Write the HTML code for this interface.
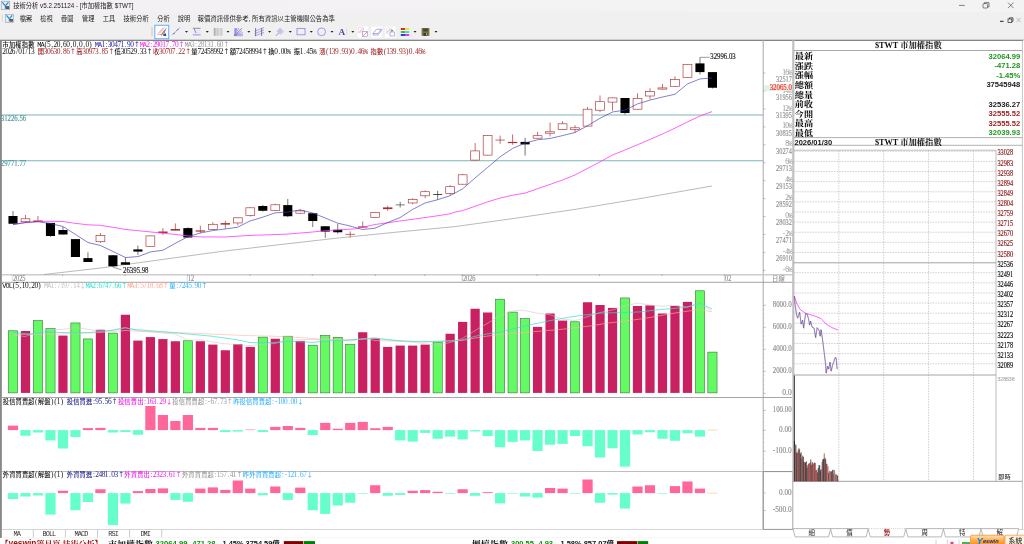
<!DOCTYPE html>
<html lang="zh-Hant"><head><meta charset="utf-8"><title>技術分析 - 市加權指數 $TWT</title>
<style>html,body{margin:0;padding:0;background:#fff;overflow:hidden}svg{display:block}text{white-space:pre}</style></head><body>
<svg width="1024" height="544" viewBox="0 0 1024 544">
<rect x="0.00" y="0.00" width="1024.00" height="544.00" fill="#ffffff" />
<rect x="0.00" y="0.00" width="1024.00" height="40.60" fill="#f0f0f0" />
<defs><linearGradient id="tg" x1="0" y1="0" x2="1" y2="0"><stop offset="0" stop-color="#f4f0f4"/><stop offset="0.7" stop-color="#f3f3f3"/><stop offset="1" stop-color="#f3f3f3"/></linearGradient></defs>
<rect x="0.00" y="0.00" width="1024.00" height="11.80" fill="url(#tg)" />
<g id="titlebar">
<g transform="translate(1.20,1.20) scale(0.950)">
<rect x="0" y="0" width="9" height="9" fill="#e8eef4" stroke="#8c98a4" stroke-width="0.6"/>
<path d="M1.2 1.2 L4.4 5 L4.4 8" stroke="#1e90d8" stroke-width="1.3" fill="none"/>
<path d="M7.6 1.2 L4.4 5" stroke="#1e90d8" stroke-width="1.3" fill="none"/>
<rect x="5" y="5.2" width="3.4" height="3" fill="#555"/>
<rect x="5.6" y="6.2" width="1.6" height="1.2" fill="#e03030"/>
</g>
<text x="13.20" y="8.40" fill="#222" font-size="6.40" font-family='"Liberation Sans","Noto Sans CJK TC",sans-serif' text-anchor="start" font-weight="normal" textLength="120.30" lengthAdjust="spacingAndGlyphs" >技術分析 v5.2.251124 - [市加權指數 $TWT]</text>
<line x1="959.00" y1="5.40" x2="964.80" y2="5.40" stroke="#333" stroke-width="0.60" />
<rect x="983" y="3.6" width="4.6" height="4.4" rx="0.8" fill="none" stroke="#333" stroke-width="0.6"/>
<path d="M984.4 3.6 V2.6 H989 V7 H987.6" fill="none" stroke="#333" stroke-width="0.6"/>
<path d="M1008 2.6 L1013.5 8.1 M1013.5 2.6 L1008 8.1" stroke="#333" stroke-width="0.6"/>
</g>
<g id="menubar">
<line x1="2.30" y1="14.50" x2="2.30" y2="21.50" stroke="#c8c8c8" stroke-width="0.60" />
<g transform="translate(5.40,14.30) scale(0.900)">
<rect x="0" y="0" width="9" height="9" fill="#e8eef4" stroke="#8c98a4" stroke-width="0.6"/>
<path d="M1.2 1.2 L4.4 5 L4.4 8" stroke="#1e90d8" stroke-width="1.3" fill="none"/>
<path d="M7.6 1.2 L4.4 5" stroke="#1e90d8" stroke-width="1.3" fill="none"/>
<rect x="5" y="5.2" width="3.4" height="3" fill="#555"/>
<rect x="5.6" y="6.2" width="1.6" height="1.2" fill="#e03030"/>
</g>
<text x="19.80" y="20.90" fill="#222" font-size="6.40" font-family='"Liberation Sans","Noto Sans CJK TC",sans-serif' text-anchor="start" font-weight="normal" textLength="12.40" lengthAdjust="spacingAndGlyphs" >檔案</text>
<text x="40.30" y="20.90" fill="#222" font-size="6.40" font-family='"Liberation Sans","Noto Sans CJK TC",sans-serif' text-anchor="start" font-weight="normal" textLength="12.40" lengthAdjust="spacingAndGlyphs" >檢視</text>
<text x="61.00" y="20.90" fill="#222" font-size="6.40" font-family='"Liberation Sans","Noto Sans CJK TC",sans-serif' text-anchor="start" font-weight="normal" textLength="12.40" lengthAdjust="spacingAndGlyphs" >疊圖</text>
<text x="82.00" y="20.90" fill="#222" font-size="6.40" font-family='"Liberation Sans","Noto Sans CJK TC",sans-serif' text-anchor="start" font-weight="normal" textLength="12.40" lengthAdjust="spacingAndGlyphs" >管理</text>
<text x="102.80" y="20.90" fill="#222" font-size="6.40" font-family='"Liberation Sans","Noto Sans CJK TC",sans-serif' text-anchor="start" font-weight="normal" textLength="12.40" lengthAdjust="spacingAndGlyphs" >工具</text>
<text x="123.50" y="20.90" fill="#222" font-size="6.40" font-family='"Liberation Sans","Noto Sans CJK TC",sans-serif' text-anchor="start" font-weight="normal" textLength="25.40" lengthAdjust="spacingAndGlyphs" >技術分析</text>
<text x="157.30" y="20.90" fill="#222" font-size="6.40" font-family='"Liberation Sans","Noto Sans CJK TC",sans-serif' text-anchor="start" font-weight="normal" textLength="12.40" lengthAdjust="spacingAndGlyphs" >分析</text>
<text x="177.80" y="20.90" fill="#222" font-size="6.40" font-family='"Liberation Sans","Noto Sans CJK TC",sans-serif' text-anchor="start" font-weight="normal" textLength="12.40" lengthAdjust="spacingAndGlyphs" >說明</text>
<text x="197.50" y="20.90" fill="#222" font-size="6.40" font-family='"Liberation Sans","Noto Sans CJK TC",sans-serif' text-anchor="start" font-weight="normal" textLength="137.50" lengthAdjust="spacingAndGlyphs" >報價資訊僅供參考, 所有資訊以主管機關公告為準</text>
<line x1="1000.00" y1="21.30" x2="1003.60" y2="21.30" stroke="#222" stroke-width="1.00" />
<rect x="1008" y="19" width="3.8" height="3.6" fill="#f0f0f0" stroke="#222" stroke-width="0.7"/>
<path d="M1009.4 19 V17.8 H1013 V21.4 H1011.8" fill="none" stroke="#222" stroke-width="0.7"/>
<path d="M1016.4 17.9 L1020.8 22.3 M1020.8 17.9 L1016.4 22.3" stroke="#999" stroke-width="0.6"/>
</g>
<g id="toolbar">
<line x1="152.00" y1="27.00" x2="152.00" y2="36.50" stroke="#b8b8b8" stroke-width="0.70" />
<rect x="154.85" y="25.25" width="13.90" height="13.50" fill="#fbfdff" stroke="#58a6e8" stroke-width="0.90" />
<path d="M157.4 33.6 L162.8 27.6 H165.2 L159.8 33.6 Z" fill="#f6c0c0"/>
<path d="M157.2 34.6 H161.4" stroke="#f0a0a8" stroke-width="0.8"/>
<path d="M161.2 35.4 L164.8 30.2" stroke="#c87838" stroke-width="1.2"/>
<path d="M163.4 34.8 L166 28.4" stroke="#7080d8" stroke-width="0.9"/>
<path d="M163.6 34.2 L166 33.2 L166.2 36 L163.2 36 Z" fill="#3840a8"/>
<path d="M172.2 35.2 L180 27.3" stroke="#9c9cff" stroke-width="0.9"/>
<path d="M173.4 34 L174.6 32.8 M176.9 30.5 L178.1 29.3" stroke="#444" stroke-width="0.9"/>
<path d="M185.00 30.90 h3 l-1.5 1.8 z" fill="#222"/>
<path d="M192.8 28.3 H200.6" stroke="#666" stroke-width="0.7"/><path d="M192.8 34.8 H200.6" stroke="#a4a4ff" stroke-width="1.3"/><path d="M197 30.6 H200.5 M197 32.6 H200.5" stroke="#dcdcdc" stroke-width="0.7"/><path d="M194.3 29 L196 33.2" stroke="#7c7cf4" stroke-width="1.0"/>
<path d="M205.80 30.90 h3 l-1.5 1.8 z" fill="#222"/>
<line x1="214.30" y1="28.00" x2="214.30" y2="35.80" stroke="#666" stroke-width="0.60" />
<line x1="215.80" y1="28.00" x2="215.80" y2="35.80" stroke="#888" stroke-width="0.60" />
<line x1="217.30" y1="28.00" x2="217.30" y2="35.80" stroke="#999" stroke-width="0.60" />
<line x1="218.80" y1="28.00" x2="218.80" y2="35.80" stroke="#aaa" stroke-width="0.60" />
<line x1="220.30" y1="28.00" x2="220.30" y2="35.80" stroke="#b4b4b4" stroke-width="0.60" />
<line x1="221.80" y1="28.00" x2="221.80" y2="35.80" stroke="#999" stroke-width="0.60" />
<path d="M226.50 30.90 h3 l-1.5 1.8 z" fill="#222"/>
<path d="M234.3 35.6 L234.3 28.2 L237 28.2 Z" fill="#7070ff" opacity="0.75"/>
<line x1="234.40" y1="35.50" x2="243.00" y2="34.29" stroke="#7474ff" stroke-width="0.60" />
<line x1="234.40" y1="35.50" x2="242.86" y2="32.42" stroke="#7474ff" stroke-width="0.60" />
<line x1="234.40" y1="35.50" x2="242.03" y2="30.73" stroke="#7474ff" stroke-width="0.60" />
<line x1="234.40" y1="35.50" x2="239.09" y2="28.00" stroke="#7474ff" stroke-width="0.60" />
<line x1="234.40" y1="35.50" x2="237.13" y2="28.00" stroke="#7474ff" stroke-width="0.60" />
<path d="M234.4 35.5 L242 28.2" stroke="#666" stroke-width="0.7"/>
<path d="M234.2 35.7 H243" stroke="#888" stroke-width="0.6"/>
<path d="M247.30 30.90 h3 l-1.5 1.8 z" fill="#222"/>
<path d="M254.6 31.2 L264 27.6 M254.6 33.6 L264 30 M254.6 36 L264 32.4" stroke="#7474ff" stroke-width="0.6"/><path d="M255.6 28 V36 M261.6 28 V36" stroke="#555" stroke-width="0.7"/>
<path d="M268.10 30.90 h3 l-1.5 1.8 z" fill="#222"/>
<path d="M276 35.8 L278.6 33.1" stroke="#7474e8" stroke-width="0.8"/>
<path d="M280 28 L283.6 31.5 L280.6 34.6 L277 31.2 Z" fill="#e4e4f4" stroke="#a4a4dc" stroke-width="0.4"/>
<path d="M278.5 29.6 L282 33 M277.8 30.4 L281.3 33.8 M279.3 28.8 L282.8 32.2 M281.6 29.6 L278.4 32.6 M282.4 30.4 L279.2 33.4 M280.8 28.8 L277.6 31.8" stroke="#9090d0" stroke-width="0.35"/>
<path d="M288.80 30.90 h3 l-1.5 1.8 z" fill="#222"/>
<rect x="297" y="28.6" width="8" height="6.2" fill="none" stroke="#7c7cf8" stroke-width="0.75"/>
<path d="M309.80 30.90 h3 l-1.5 1.8 z" fill="#222"/>
<circle cx="321.6" cy="31.8" r="3.9" fill="none" stroke="#7c7cf8" stroke-width="0.75"/>
<path d="M330.50 30.90 h3 l-1.5 1.8 z" fill="#222"/>
<text x="338.60" y="35.20" fill="#4a4ab0" font-size="9.20" font-family='"Liberation Serif","Noto Serif CJK SC",serif' text-anchor="start" font-weight="bold" >A</text>
<path d="M346.6 28.5 v6.5" stroke="#9ab" stroke-width="0.5" stroke-dasharray="0.8 0.8"/>
<path d="M351.30 30.90 h3 l-1.5 1.8 z" fill="#222"/>
<rect x="357.60" y="26.60" width="10.60" height="11.00" fill="#ffffff" />
<rect x="371.20" y="26.60" width="10.60" height="11.00" fill="#ffffff" />
<rect x="385.00" y="26.60" width="10.60" height="11.00" fill="#ffffff" />
<rect x="358.8" y="27.8" width="5" height="5" fill="#fff" stroke="#c8c8d8" stroke-width="0.4"/><path d="M359.3 32.3 L363.3 28.3" stroke="#f06060" stroke-width="0.7"/>
<rect x="362.6" y="31.4" width="5" height="5" fill="#fff" stroke="#7070c8" stroke-width="0.5"/><path d="M363.1 35.9 L367.1 31.9" stroke="#f06060" stroke-width="0.7"/>
<path d="M373 33.5 L376.5 29.2 L381.3 29.2 L378 33.5 Z M373 33.5 V35 L378 35 L381.3 30.8 V29.2" fill="#fff" stroke="#7878d0" stroke-width="0.6"/>
<rect x="386.4" y="28" width="5" height="5.4" fill="#fff" stroke="#c8c8d8" stroke-width="0.4"/><path d="M386.9 32.6 L390.6 28.8" stroke="#f06060" stroke-width="0.7"/>
<rect x="390" y="32" width="4.6" height="4" fill="#fff" stroke="#6a6ac0" stroke-width="0.5"/><path d="M390.4 31.2 l1.6 -1.8 l1.6 1.8 z" fill="#3a8a5a"/>
<rect x="400.80" y="28.00" width="4.20" height="2.00" fill="#d83030" />
<rect x="405.00" y="28.00" width="4.20" height="2.00" fill="#f0e040" />
<rect x="400.80" y="31.00" width="4.20" height="2.00" fill="#40c040" />
<rect x="405.00" y="31.00" width="4.20" height="2.00" fill="#40e0e0" />
<rect x="400.80" y="34.00" width="4.20" height="2.00" fill="#3040d0" />
<rect x="405.00" y="34.00" width="4.20" height="2.00" fill="#e040e0" />
<path d="M413.50 30.90 h3 l-1.5 1.8 z" fill="#222"/>
<rect x="421.60" y="28.00" width="7.80" height="7.80" fill="#7d7636" />
<rect x="423.20" y="28.60" width="4.60" height="2.80" fill="#444" />
<rect x="423.40" y="33.00" width="4.20" height="2.80" fill="#3a3a3a" />
<rect x="426.20" y="33.40" width="1.00" height="1.80" fill="#ddd" />
<path d="M434.50 30.90 h3 l-1.5 1.8 z" fill="#222"/>
</g>
<g id="frame">
<rect x="0.00" y="39.70" width="1024.00" height="1.30" fill="#858585" />
<rect x="0.00" y="40.00" width="1.60" height="498.00" fill="#878787" />
<line x1="763.20" y1="40.00" x2="763.20" y2="529.40" stroke="#a8a8a8" stroke-width="1.00" />
<line x1="1.70" y1="274.70" x2="792.50" y2="274.70" stroke="#cdcdcd" stroke-width="1.40" />
<line x1="1.70" y1="282.30" x2="792.50" y2="282.30" stroke="#8e8e8e" stroke-width="0.80" />
<line x1="1.70" y1="397.50" x2="792.50" y2="397.50" stroke="#9c9c9c" stroke-width="0.90" />
<line x1="1.70" y1="471.50" x2="792.50" y2="471.50" stroke="#b8b8b8" stroke-width="0.90" />
<line x1="1.70" y1="529.50" x2="1024.00" y2="529.50" stroke="#cfcfcf" stroke-width="0.90" />
<line x1="0.00" y1="537.70" x2="792.00" y2="537.70" stroke="#f0f0f0" stroke-width="0.80" />
<path d="M763.20 471.6 H792.8 V529.4 H763.20 Z" fill="none" stroke="#808080" stroke-width="0.7"/>
<rect x="792.20" y="40.40" width="2.20" height="334.80" fill="#c0c0c0" />
<rect x="792.20" y="375.00" width="1.50" height="96.30" fill="#cccccc" />
<rect x="793.70" y="375.20" width="1.30" height="106.30" fill="#505050" />
</g>
<g id="kchart">
<line x1="1.70" y1="115.00" x2="763.20" y2="115.00" stroke="#7fb4ba" stroke-width="1.10" />
<line x1="1.70" y1="160.70" x2="763.20" y2="160.70" stroke="#7fb4ba" stroke-width="1.10" />
<text x="0.80" y="120.60" fill="#4f9aa2" font-size="7.36" font-family='"Liberation Serif","Noto Sans CJK TC",serif' textLength="25.40" lengthAdjust="spacingAndGlyphs" stroke="#4f9aa2" stroke-width="0.16" >31226.56</text>
<text x="0.80" y="165.90" fill="#4f9aa2" font-size="7.36" font-family='"Liberation Serif","Noto Sans CJK TC",serif' textLength="25.40" lengthAdjust="spacingAndGlyphs" stroke="#4f9aa2" stroke-width="0.16" >29771.77</text>
<text x="2.56 8.96 15.36 21.76 28.16 35.18 37.23 40.43 44.47 47.06 51.18 53.46 56.66 60.78 63.06 66.26 70.38 72.66 76.78 79.06 83.18 85.46 89.27 92.78" y="46.90" fill="#111" font-size="7.36" font-family='"Liberation Serif","Noto Sans CJK TC",serif' ><tspan font-family='"Noto Sans CJK TC","Noto Sans CJK SC",sans-serif' font-size='6.27' font-weight='500'>市加權指數</tspan> <tspan font-family='"Liberation Mono",monospace' font-size='6.91'>MA</tspan>(5,20,60,0,0,0) </text>
<text x="94.83 98.03 101.46 105.48 107.86 111.06 114.26 117.46 120.66 124.78 127.06 130.26 133.76" y="46.90" fill="#1a1aa0" font-size="7.36" font-family='"Liberation Serif","Noto Sans CJK TC",serif' ><tspan font-family='"Liberation Mono",monospace' font-size='6.91'>MA</tspan>1:30471.90<tspan font-family='"Noto Sans CJK TC","Noto Sans CJK SC",sans-serif' font-size='6.27' font-weight='500'>↑</tspan></text>
<text x="139.63 142.83 146.26 150.28 152.66 155.86 159.06 162.26 165.46 169.58 171.86 175.06 178.56" y="46.90" fill="#f020f0" font-size="7.36" font-family='"Liberation Serif","Noto Sans CJK TC",serif' ><tspan font-family='"Liberation Mono",monospace' font-size='6.91'>MA</tspan>2:29017.70<tspan font-family='"Noto Sans CJK TC","Noto Sans CJK SC",sans-serif' font-size='6.27' font-weight='500'>↑</tspan></text>
<text x="184.43 187.63 191.06 195.08 197.46 200.66 203.86 207.06 210.26 214.38 216.66 219.86 223.36" y="46.90" fill="#9a9a9a" font-size="7.36" font-family='"Liberation Serif","Noto Sans CJK TC",serif' ><tspan font-family='"Liberation Mono",monospace' font-size='6.91'>MA</tspan>3:28131.60<tspan font-family='"Noto Sans CJK TC","Noto Sans CJK SC",sans-serif' font-size='6.27' font-weight='500'>↑</tspan></text>
<text x="2.26 5.46 8.66 11.86 15.88 18.26 21.46 25.48 27.86 31.06 35.18" y="54.40" fill="#111" font-size="7.36" font-family='"Liberation Serif","Noto Sans CJK TC",serif' >2026/01/13 </text>
<text x="37.76 43.86 47.06 50.26 53.46 56.66 60.78 63.06 66.26 69.76" y="54.40" fill="#a02828" font-size="7.36" font-family='"Liberation Serif","Noto Sans CJK TC",serif' ><tspan font-family='"Noto Sans CJK TC","Noto Sans CJK SC",sans-serif' font-size='6.27' font-weight='500'>開</tspan>30630.86<tspan font-family='"Noto Sans CJK TC","Noto Sans CJK SC",sans-serif' font-size='6.27' font-weight='500'>↑</tspan></text>
<text x="76.16 82.26 85.46 88.66 91.86 95.06 99.18 101.46 104.66 108.16" y="54.40" fill="#a02828" font-size="7.36" font-family='"Liberation Serif","Noto Sans CJK TC",serif' ><tspan font-family='"Noto Sans CJK TC","Noto Sans CJK SC",sans-serif' font-size='6.27' font-weight='500'>高</tspan>30973.85<tspan font-family='"Noto Sans CJK TC","Noto Sans CJK SC",sans-serif' font-size='6.27' font-weight='500'>↑</tspan></text>
<text x="114.56 120.66 123.86 127.06 130.26 133.46 137.58 139.86 143.06 146.56" y="54.40" fill="#111" font-size="7.36" font-family='"Liberation Serif","Noto Sans CJK TC",serif' ><tspan font-family='"Noto Sans CJK TC","Noto Sans CJK SC",sans-serif' font-size='6.27' font-weight='500'>低</tspan>30529.33<tspan font-family='"Noto Sans CJK TC","Noto Sans CJK SC",sans-serif' font-size='6.27' font-weight='500'>↑</tspan></text>
<text x="152.96 159.06 162.26 165.46 168.66 171.86 175.98 178.26 181.46 184.96" y="54.40" fill="#a02828" font-size="7.36" font-family='"Liberation Serif","Noto Sans CJK TC",serif' ><tspan font-family='"Noto Sans CJK TC","Noto Sans CJK SC",sans-serif' font-size='6.27' font-weight='500'>收</tspan>30707.22<tspan font-family='"Noto Sans CJK TC","Noto Sans CJK SC",sans-serif' font-size='6.27' font-weight='500'>↑</tspan></text>
<text x="191.36 197.46 200.66 203.86 207.06 210.26 213.46 216.66 219.86 223.36" y="54.40" fill="#111" font-size="7.36" font-family='"Liberation Serif","Noto Sans CJK TC",serif' ><tspan font-family='"Noto Sans CJK TC","Noto Sans CJK SC",sans-serif' font-size='6.27' font-weight='500'>量</tspan>72458992<tspan font-family='"Noto Sans CJK TC","Noto Sans CJK SC",sans-serif' font-size='6.27' font-weight='500'>↑</tspan></text>
<text x="229.76 235.86 239.06 242.26 245.46 248.66 251.86 255.06 258.26 261.76" y="54.40" fill="#111" font-size="7.36" font-family='"Liberation Serif","Noto Sans CJK TC",serif' ><tspan font-family='"Noto Sans CJK TC","Noto Sans CJK SC",sans-serif' font-size='6.27' font-weight='500'>額</tspan>72458994<tspan font-family='"Noto Sans CJK TC","Noto Sans CJK SC",sans-serif' font-size='6.27' font-weight='500'>↑</tspan></text>
<text x="268.16 274.26 278.38 280.66 283.86 286.83 291.18" y="54.40" fill="#111" font-size="7.36" font-family='"Liberation Serif","Noto Sans CJK TC",serif' ><tspan font-family='"Noto Sans CJK TC","Noto Sans CJK SC",sans-serif' font-size='6.27' font-weight='500'>換</tspan>0.00<tspan font-family='"Liberation Mono",monospace' font-size='6.91'>%</tspan> </text>
<text x="293.76 299.86 303.98 306.26 309.46 312.43 316.78" y="54.40" fill="#111" font-size="7.36" font-family='"Liberation Serif","Noto Sans CJK TC",serif' ><tspan font-family='"Noto Sans CJK TC","Noto Sans CJK SC",sans-serif' font-size='6.27' font-weight='500'>振</tspan>1.45<tspan font-family='"Liberation Mono",monospace' font-size='6.91'>%</tspan> </text>
<text x="319.36 326.07 328.66 331.86 335.06 339.18 341.46 344.66 348.47 351.06 355.18 357.46 360.66 363.63 367.98" y="54.40" fill="#a02828" font-size="7.36" font-family='"Liberation Serif","Noto Sans CJK TC",serif' ><tspan font-family='"Noto Sans CJK TC","Noto Sans CJK SC",sans-serif' font-size='6.27' font-weight='500'>漲</tspan>(139.93)0.46<tspan font-family='"Liberation Mono",monospace' font-size='6.91'>%</tspan> </text>
<text x="370.56 376.96 383.67 386.26 389.46 392.66 396.78 399.06 402.26 406.07 408.66 412.78 415.06 418.26 421.23" y="54.40" fill="#a02828" font-size="7.36" font-family='"Liberation Serif","Noto Sans CJK TC",serif' ><tspan font-family='"Noto Sans CJK TC","Noto Sans CJK SC",sans-serif' font-size='6.27' font-weight='500'>指數</tspan>(139.93)0.46<tspan font-family='"Liberation Mono",monospace' font-size='6.91'>%</tspan></text>
<polyline points="44.00,274.50 100.00,268.10 160.00,259.80 220.00,251.60 280.00,244.60 340.00,237.80 400.00,231.80 455.00,226.60 515.00,218.30 575.00,209.40 640.00,198.60 712.00,186.00" fill="none" stroke="#8c8c8c" stroke-width="0.60" stroke-linejoin="round" />
<line x1="13.00" y1="211.00" x2="13.00" y2="223.75" stroke="#222" stroke-width="0.62" />
<rect x="8.45" y="216.00" width="9.10" height="7.75" fill="#000" />
<line x1="25.49" y1="215.00" x2="25.49" y2="222.50" stroke="#a83232" stroke-width="0.70" />
<rect x="21.07" y="218.80" width="8.84" height="2.90" fill="#fff" stroke="#a83232" stroke-width="0.65" />
<line x1="37.98" y1="216.00" x2="37.98" y2="222.00" stroke="#a83232" stroke-width="0.70" />
<rect x="33.26" y="220.50" width="9.44" height="1.50" fill="#a83232" />
<line x1="50.47" y1="222.90" x2="50.47" y2="236.75" stroke="#222" stroke-width="0.62" />
<rect x="45.92" y="222.90" width="9.10" height="13.10" fill="#000" />
<line x1="62.96" y1="227.00" x2="62.96" y2="234.50" stroke="#222" stroke-width="0.62" />
<rect x="58.41" y="230.00" width="9.10" height="4.50" fill="#000" />
<line x1="75.45" y1="239.10" x2="75.45" y2="257.00" stroke="#222" stroke-width="0.62" />
<rect x="70.90" y="239.10" width="9.10" height="17.90" fill="#000" />
<line x1="87.94" y1="252.25" x2="87.94" y2="262.00" stroke="#222" stroke-width="0.62" />
<rect x="83.39" y="258.10" width="9.10" height="3.90" fill="#000" />
<line x1="100.43" y1="233.00" x2="100.43" y2="243.00" stroke="#a83232" stroke-width="0.70" />
<rect x="96.01" y="235.55" width="8.84" height="6.15" fill="#fff" stroke="#a83232" stroke-width="0.65" />
<line x1="112.92" y1="255.00" x2="112.92" y2="267.00" stroke="#222" stroke-width="0.62" />
<rect x="108.37" y="255.25" width="9.10" height="11.00" fill="#000" />
<line x1="125.41" y1="257.50" x2="125.41" y2="264.75" stroke="#222" stroke-width="0.62" />
<rect x="120.86" y="262.25" width="9.10" height="2.50" fill="#000" />
<line x1="137.90" y1="245.60" x2="137.90" y2="255.00" stroke="#222" stroke-width="0.62" />
<rect x="133.35" y="249.40" width="9.10" height="2.20" fill="#000" />
<line x1="150.39" y1="235.60" x2="150.39" y2="246.60" stroke="#a83232" stroke-width="0.70" />
<rect x="145.97" y="235.90" width="8.84" height="10.40" fill="#fff" stroke="#a83232" stroke-width="0.65" />
<line x1="162.88" y1="228.10" x2="162.88" y2="234.75" stroke="#a83232" stroke-width="0.70" />
<rect x="158.16" y="231.50" width="9.44" height="1.60" fill="#a83232" />
<line x1="175.37" y1="223.50" x2="175.37" y2="230.60" stroke="#a83232" stroke-width="0.70" />
<rect x="170.65" y="229.00" width="9.44" height="1.60" fill="#a83232" />
<line x1="187.86" y1="227.25" x2="187.86" y2="237.50" stroke="#222" stroke-width="0.62" />
<rect x="183.31" y="228.10" width="9.10" height="9.40" fill="#000" />
<line x1="200.35" y1="225.60" x2="200.35" y2="233.10" stroke="#a83232" stroke-width="0.70" />
<rect x="195.63" y="230.40" width="9.44" height="1.20" fill="#a83232" />
<line x1="212.84" y1="222.10" x2="212.84" y2="229.75" stroke="#a83232" stroke-width="0.70" />
<rect x="208.42" y="224.30" width="8.84" height="5.15" fill="#fff" stroke="#a83232" stroke-width="0.65" />
<line x1="225.33" y1="220.80" x2="225.33" y2="228.60" stroke="#a83232" stroke-width="0.70" />
<rect x="220.61" y="223.10" width="9.44" height="1.50" fill="#a83232" />
<line x1="237.82" y1="217.50" x2="237.82" y2="225.40" stroke="#a83232" stroke-width="0.70" />
<rect x="233.40" y="217.80" width="8.84" height="5.15" fill="#fff" stroke="#a83232" stroke-width="0.65" />
<line x1="250.31" y1="207.50" x2="250.31" y2="216.60" stroke="#a83232" stroke-width="0.70" />
<rect x="245.89" y="207.80" width="8.84" height="7.65" fill="#fff" stroke="#a83232" stroke-width="0.65" />
<line x1="262.80" y1="205.00" x2="262.80" y2="211.60" stroke="#222" stroke-width="0.62" />
<rect x="258.25" y="206.00" width="9.10" height="4.75" fill="#000" />
<line x1="275.29" y1="203.75" x2="275.29" y2="210.75" stroke="#a83232" stroke-width="0.70" />
<rect x="270.87" y="204.80" width="8.84" height="5.65" fill="#fff" stroke="#a83232" stroke-width="0.65" />
<line x1="287.78" y1="198.90" x2="287.78" y2="217.25" stroke="#222" stroke-width="0.62" />
<rect x="283.23" y="205.10" width="9.10" height="11.15" fill="#000" />
<line x1="300.27" y1="209.10" x2="300.27" y2="214.00" stroke="#a83232" stroke-width="0.70" />
<rect x="295.85" y="210.90" width="8.84" height="2.30" fill="#fff" stroke="#a83232" stroke-width="0.65" />
<line x1="312.76" y1="213.25" x2="312.76" y2="227.00" stroke="#222" stroke-width="0.62" />
<rect x="308.21" y="213.25" width="9.10" height="7.75" fill="#000" />
<line x1="325.25" y1="226.25" x2="325.25" y2="237.90" stroke="#222" stroke-width="0.62" />
<rect x="320.70" y="226.25" width="9.10" height="5.35" fill="#000" />
<line x1="337.74" y1="223.90" x2="337.74" y2="233.75" stroke="#222" stroke-width="0.62" />
<rect x="333.19" y="229.75" width="9.10" height="2.50" fill="#000" />
<line x1="350.23" y1="231.40" x2="350.23" y2="237.60" stroke="#a83232" stroke-width="0.70" />
<rect x="345.51" y="233.90" width="9.44" height="0.70" fill="#a83232" />
<line x1="362.72" y1="221.40" x2="362.72" y2="227.60" stroke="#a83232" stroke-width="0.70" />
<rect x="358.00" y="226.40" width="9.44" height="1.20" fill="#a83232" />
<line x1="375.21" y1="212.25" x2="375.21" y2="217.60" stroke="#a83232" stroke-width="0.70" />
<rect x="370.79" y="212.55" width="8.84" height="4.75" fill="#fff" stroke="#a83232" stroke-width="0.65" />
<line x1="387.70" y1="205.75" x2="387.70" y2="210.75" stroke="#a83232" stroke-width="0.70" />
<rect x="382.98" y="207.40" width="9.44" height="1.70" fill="#a83232" />
<line x1="400.19" y1="201.75" x2="400.19" y2="207.60" stroke="#444" stroke-width="0.70" />
<line x1="395.64" y1="204.90" x2="404.74" y2="204.90" stroke="#444" stroke-width="0.70" />
<line x1="412.68" y1="198.25" x2="412.68" y2="204.25" stroke="#a83232" stroke-width="0.70" />
<rect x="408.26" y="199.55" width="8.84" height="3.40" fill="#fff" stroke="#a83232" stroke-width="0.65" />
<line x1="425.17" y1="190.50" x2="425.17" y2="198.25" stroke="#a83232" stroke-width="0.70" />
<rect x="420.75" y="191.70" width="8.84" height="4.10" fill="#fff" stroke="#a83232" stroke-width="0.65" />
<line x1="437.66" y1="190.75" x2="437.66" y2="199.75" stroke="#222" stroke-width="0.62" />
<rect x="433.11" y="194.20" width="9.10" height="0.70" fill="#000" />
<line x1="450.15" y1="185.10" x2="450.15" y2="195.10" stroke="#a83232" stroke-width="0.70" />
<rect x="445.73" y="186.70" width="8.84" height="6.90" fill="#fff" stroke="#a83232" stroke-width="0.65" />
<line x1="462.64" y1="173.90" x2="462.64" y2="184.50" stroke="#a83232" stroke-width="0.70" />
<rect x="458.22" y="174.80" width="8.84" height="9.40" fill="#fff" stroke="#a83232" stroke-width="0.65" />
<line x1="475.13" y1="143.10" x2="475.13" y2="160.40" stroke="#a83232" stroke-width="0.70" />
<rect x="470.71" y="150.90" width="8.84" height="9.20" fill="#fff" stroke="#a83232" stroke-width="0.65" />
<line x1="487.62" y1="135.25" x2="487.62" y2="155.40" stroke="#a83232" stroke-width="0.70" />
<rect x="483.20" y="135.55" width="8.84" height="19.55" fill="#fff" stroke="#a83232" stroke-width="0.65" />
<line x1="500.11" y1="135.60" x2="500.11" y2="143.75" stroke="#a83232" stroke-width="0.70" />
<rect x="495.39" y="139.70" width="9.44" height="0.70" fill="#a83232" />
<line x1="512.60" y1="134.40" x2="512.60" y2="144.75" stroke="#a83232" stroke-width="0.70" />
<rect x="507.88" y="141.90" width="9.44" height="1.20" fill="#a83232" />
<line x1="525.09" y1="137.75" x2="525.09" y2="155.60" stroke="#666" stroke-width="0.90" />
<rect x="520.54" y="141.90" width="9.10" height="2.50" fill="#000" />
<line x1="537.58" y1="131.90" x2="537.58" y2="138.50" stroke="#a83232" stroke-width="0.70" />
<rect x="533.16" y="135.70" width="8.84" height="2.50" fill="#fff" stroke="#a83232" stroke-width="0.65" />
<line x1="550.07" y1="122.50" x2="550.07" y2="136.50" stroke="#a83232" stroke-width="0.70" />
<rect x="545.65" y="131.80" width="8.84" height="1.40" fill="#fff" stroke="#a83232" stroke-width="0.65" />
<line x1="562.56" y1="121.25" x2="562.56" y2="129.75" stroke="#a83232" stroke-width="0.70" />
<rect x="558.14" y="123.80" width="8.84" height="5.65" fill="#fff" stroke="#a83232" stroke-width="0.65" />
<line x1="575.05" y1="125.25" x2="575.05" y2="132.50" stroke="#a83232" stroke-width="0.70" />
<rect x="570.63" y="127.80" width="8.84" height="1.65" fill="#fff" stroke="#a83232" stroke-width="0.65" />
<line x1="587.54" y1="107.00" x2="587.54" y2="126.40" stroke="#a83232" stroke-width="0.70" />
<rect x="583.12" y="109.20" width="8.84" height="16.90" fill="#fff" stroke="#a83232" stroke-width="0.65" />
<line x1="600.03" y1="95.50" x2="600.03" y2="112.25" stroke="#a83232" stroke-width="0.70" />
<rect x="595.61" y="101.70" width="8.84" height="8.50" fill="#fff" stroke="#a83232" stroke-width="0.65" />
<line x1="612.52" y1="97.60" x2="612.52" y2="110.75" stroke="#a83232" stroke-width="0.70" />
<rect x="608.10" y="97.90" width="8.84" height="4.20" fill="#fff" stroke="#a83232" stroke-width="0.65" />
<line x1="625.01" y1="98.00" x2="625.01" y2="114.50" stroke="#222" stroke-width="0.62" />
<rect x="620.46" y="98.00" width="9.10" height="15.00" fill="#000" />
<line x1="637.50" y1="93.25" x2="637.50" y2="109.50" stroke="#a83232" stroke-width="0.70" />
<rect x="633.08" y="98.55" width="8.84" height="10.65" fill="#fff" stroke="#a83232" stroke-width="0.65" />
<line x1="649.99" y1="88.30" x2="649.99" y2="99.10" stroke="#a83232" stroke-width="0.70" />
<rect x="645.57" y="91.60" width="8.84" height="4.40" fill="#fff" stroke="#a83232" stroke-width="0.65" />
<line x1="662.48" y1="83.90" x2="662.48" y2="89.60" stroke="#a83232" stroke-width="0.70" />
<rect x="658.06" y="87.90" width="8.84" height="1.20" fill="#fff" stroke="#a83232" stroke-width="0.65" />
<line x1="674.97" y1="76.30" x2="674.97" y2="86.60" stroke="#a83232" stroke-width="0.70" />
<rect x="670.55" y="79.60" width="8.84" height="6.70" fill="#fff" stroke="#a83232" stroke-width="0.65" />
<line x1="687.46" y1="64.00" x2="687.46" y2="77.70" stroke="#a83232" stroke-width="0.70" />
<rect x="683.04" y="64.30" width="8.84" height="13.10" fill="#fff" stroke="#a83232" stroke-width="0.65" />
<line x1="699.95" y1="58.00" x2="699.95" y2="74.60" stroke="#222" stroke-width="0.62" />
<rect x="695.40" y="63.40" width="9.10" height="8.70" fill="#000" />
<line x1="712.44" y1="72.10" x2="712.44" y2="88.50" stroke="#222" stroke-width="0.62" />
<rect x="707.89" y="72.10" width="9.10" height="15.65" fill="#000" />
<polyline points="13.00,224.60 25.00,222.75 38.00,221.50 50.00,221.30 63.00,221.50 75.00,223.30 88.00,224.80 100.00,225.30 113.00,227.30 125.00,229.40 150.00,231.90 175.00,234.40 187.50,235.90 200.00,236.90 225.00,237.00 250.00,235.40 287.50,234.10 312.50,232.00 325.00,230.75 340.00,229.75 355.00,228.90 375.00,224.50 400.00,221.00 425.00,217.60 450.00,213.90 455.00,212.10 462.50,210.60 475.00,206.30 487.50,201.90 500.00,198.10 512.50,195.25 525.00,193.10 537.50,188.75 550.00,184.40 562.50,180.00 575.00,175.00 583.00,170.80 600.00,161.90 612.50,155.00 625.00,150.00 637.50,144.75 650.00,139.40 662.50,134.00 675.00,128.10 687.50,121.90 700.00,116.00 712.00,111.60" fill="none" stroke="#ff38ff" stroke-width="0.80" stroke-linejoin="round" />
<polyline points="13.00,224.50 25.00,222.50 38.00,221.75 50.50,223.50 63.00,226.50 75.50,234.50 88.00,242.50 100.50,245.50 113.00,251.50 125.50,257.50 138.00,256.60 150.60,251.90 162.90,250.25 175.00,243.50 187.50,236.90 200.00,233.10 212.50,230.60 225.00,229.00 237.50,227.25 250.00,221.00 262.50,217.25 275.00,212.90 287.50,212.00 300.00,210.00 312.50,212.90 325.00,217.90 337.50,223.10 350.00,226.00 362.50,229.50 375.00,228.25 387.50,222.60 400.00,217.60 412.50,209.50 425.00,203.00 437.50,199.75 450.00,195.75 462.50,188.90 475.00,178.00 487.50,167.50 500.00,156.90 512.50,148.50 525.00,143.10 537.50,139.75 550.00,138.50 562.50,135.60 575.00,132.50 587.50,125.75 600.00,118.25 612.50,112.00 625.00,110.10 637.50,103.90 650.00,100.10 662.50,97.00 675.00,94.25 687.50,83.90 700.00,78.90 712.00,78.00" fill="none" stroke="#3c3cb0" stroke-width="0.65" stroke-linejoin="round" />
<path d="M699.95 58 V57.3 H709.5" fill="none" stroke="#333" stroke-width="0.5"/>
<text x="710.30" y="59.40" fill="#222" font-size="7.36" font-family='"Liberation Serif","Noto Sans CJK TC",serif' textLength="25.40" lengthAdjust="spacingAndGlyphs" stroke="#222" stroke-width="0.16" >32996.03</text>
<path d="M112.92 267.2 L121.5 269.8" fill="none" stroke="#333" stroke-width="0.5"/>
<text x="123.10" y="272.60" fill="#222" font-size="7.36" font-family='"Liberation Serif","Noto Sans CJK TC",serif' textLength="25.40" lengthAdjust="spacingAndGlyphs" stroke="#222" stroke-width="0.16" >26395.98</text>
<line x1="62.50" y1="274.50" x2="62.50" y2="276.00" stroke="#888" stroke-width="0.60" />
<line x1="125.00" y1="274.50" x2="125.00" y2="276.00" stroke="#888" stroke-width="0.60" />
<line x1="187.50" y1="274.50" x2="187.50" y2="276.00" stroke="#888" stroke-width="0.60" />
<line x1="250.00" y1="274.50" x2="250.00" y2="276.00" stroke="#888" stroke-width="0.60" />
<line x1="312.30" y1="274.50" x2="312.30" y2="276.00" stroke="#888" stroke-width="0.60" />
<line x1="375.30" y1="274.50" x2="375.30" y2="276.00" stroke="#888" stroke-width="0.60" />
<line x1="424.80" y1="274.50" x2="424.80" y2="276.00" stroke="#888" stroke-width="0.60" />
<line x1="462.20" y1="274.50" x2="462.20" y2="276.00" stroke="#888" stroke-width="0.60" />
<line x1="537.00" y1="274.50" x2="537.00" y2="276.00" stroke="#888" stroke-width="0.60" />
<line x1="599.50" y1="274.50" x2="599.50" y2="276.00" stroke="#888" stroke-width="0.60" />
<line x1="662.00" y1="274.50" x2="662.00" y2="276.00" stroke="#888" stroke-width="0.60" />
<line x1="724.40" y1="274.50" x2="724.40" y2="276.00" stroke="#888" stroke-width="0.60" />
<line x1="12.30" y1="274.80" x2="12.30" y2="281.60" stroke="#bbb" stroke-width="0.50" />
<line x1="462.20" y1="274.80" x2="462.20" y2="281.60" stroke="#999" stroke-width="0.60" />
<line x1="724.40" y1="274.80" x2="724.40" y2="281.60" stroke="#bbb" stroke-width="0.50" />
<line x1="187.20" y1="274.80" x2="187.20" y2="281.60" stroke="#bbb" stroke-width="0.50" />
<text x="12.90" y="280.60" fill="#929292" font-size="7.36" font-family='"Liberation Serif","Noto Sans CJK TC",serif' textLength="12.60" lengthAdjust="spacingAndGlyphs" stroke="#929292" stroke-width="0.16" >2025</text>
<text x="187.90" y="280.60" fill="#929292" font-size="7.36" font-family='"Liberation Serif","Noto Sans CJK TC",serif' textLength="6.20" lengthAdjust="spacingAndGlyphs" stroke="#929292" stroke-width="0.16" >12</text>
<text x="462.90" y="280.60" fill="#929292" font-size="7.36" font-family='"Liberation Serif","Noto Sans CJK TC",serif' textLength="12.60" lengthAdjust="spacingAndGlyphs" stroke="#929292" stroke-width="0.16" >2026</text>
<text x="725.10" y="280.60" fill="#929292" font-size="7.36" font-family='"Liberation Serif","Noto Sans CJK TC",serif' textLength="6.20" lengthAdjust="spacingAndGlyphs" stroke="#929292" stroke-width="0.16" >02</text>
<text x="772.06 778.46" y="281.10" fill="#929292" font-size="7.36" font-family='"Liberation Serif","Noto Sans CJK TC",serif' ><tspan font-family='"Noto Sans CJK TC","Noto Sans CJK SC",sans-serif' font-size='6.27' font-weight='500'>日線</tspan></text>
<line x1="763.20" y1="73.10" x2="765.60" y2="73.10" stroke="#999" stroke-width="0.60" />
<text x="782.16 785.36 788.33" y="74.70" fill="#929292" font-size="7.36" font-family='"Liberation Serif","Noto Sans CJK TC",serif' >16<tspan font-family='"Liberation Mono",monospace' font-size='6.91'>%</tspan></text>
<text x="776.10" y="81.80" fill="#929292" font-size="7.36" font-family='"Liberation Serif","Noto Sans CJK TC",serif' textLength="15.80" lengthAdjust="spacingAndGlyphs" stroke="#929292" stroke-width="0.16" >32517</text>
<line x1="763.20" y1="91.03" x2="765.60" y2="91.03" stroke="#999" stroke-width="0.60" />
<text x="782.16 785.36 788.33" y="92.63" fill="#929292" font-size="7.36" font-family='"Liberation Serif","Noto Sans CJK TC",serif' >14<tspan font-family='"Liberation Mono",monospace' font-size='6.91'>%</tspan></text>
<text x="776.10" y="99.73" fill="#929292" font-size="7.36" font-family='"Liberation Serif","Noto Sans CJK TC",serif' textLength="15.80" lengthAdjust="spacingAndGlyphs" stroke="#929292" stroke-width="0.16" >31956</text>
<line x1="763.20" y1="108.96" x2="765.60" y2="108.96" stroke="#999" stroke-width="0.60" />
<text x="782.16 785.36 788.33" y="110.56" fill="#929292" font-size="7.36" font-family='"Liberation Serif","Noto Sans CJK TC",serif' >12<tspan font-family='"Liberation Mono",monospace' font-size='6.91'>%</tspan></text>
<text x="776.10" y="117.66" fill="#929292" font-size="7.36" font-family='"Liberation Serif","Noto Sans CJK TC",serif' textLength="15.80" lengthAdjust="spacingAndGlyphs" stroke="#929292" stroke-width="0.16" >31395</text>
<line x1="763.20" y1="126.89" x2="765.60" y2="126.89" stroke="#999" stroke-width="0.60" />
<text x="782.16 785.36 788.33" y="128.49" fill="#929292" font-size="7.36" font-family='"Liberation Serif","Noto Sans CJK TC",serif' >10<tspan font-family='"Liberation Mono",monospace' font-size='6.91'>%</tspan></text>
<text x="776.10" y="135.59" fill="#929292" font-size="7.36" font-family='"Liberation Serif","Noto Sans CJK TC",serif' textLength="15.80" lengthAdjust="spacingAndGlyphs" stroke="#929292" stroke-width="0.16" >30835</text>
<line x1="763.20" y1="144.82" x2="765.60" y2="144.82" stroke="#999" stroke-width="0.60" />
<text x="785.36 788.33" y="146.42" fill="#929292" font-size="7.36" font-family='"Liberation Serif","Noto Sans CJK TC",serif' >8<tspan font-family='"Liberation Mono",monospace' font-size='6.91'>%</tspan></text>
<text x="776.10" y="153.52" fill="#929292" font-size="7.36" font-family='"Liberation Serif","Noto Sans CJK TC",serif' textLength="15.80" lengthAdjust="spacingAndGlyphs" stroke="#929292" stroke-width="0.16" >30274</text>
<line x1="763.20" y1="162.75" x2="765.60" y2="162.75" stroke="#999" stroke-width="0.60" />
<text x="785.36 788.33" y="164.35" fill="#929292" font-size="7.36" font-family='"Liberation Serif","Noto Sans CJK TC",serif' >6<tspan font-family='"Liberation Mono",monospace' font-size='6.91'>%</tspan></text>
<text x="776.10" y="171.45" fill="#929292" font-size="7.36" font-family='"Liberation Serif","Noto Sans CJK TC",serif' textLength="15.80" lengthAdjust="spacingAndGlyphs" stroke="#929292" stroke-width="0.16" >29713</text>
<line x1="763.20" y1="180.68" x2="765.60" y2="180.68" stroke="#999" stroke-width="0.60" />
<text x="785.36 788.33" y="182.28" fill="#929292" font-size="7.36" font-family='"Liberation Serif","Noto Sans CJK TC",serif' >4<tspan font-family='"Liberation Mono",monospace' font-size='6.91'>%</tspan></text>
<text x="776.10" y="189.38" fill="#929292" font-size="7.36" font-family='"Liberation Serif","Noto Sans CJK TC",serif' textLength="15.80" lengthAdjust="spacingAndGlyphs" stroke="#929292" stroke-width="0.16" >29153</text>
<line x1="763.20" y1="198.61" x2="765.60" y2="198.61" stroke="#999" stroke-width="0.60" />
<text x="785.36 788.33" y="200.21" fill="#929292" font-size="7.36" font-family='"Liberation Serif","Noto Sans CJK TC",serif' >2<tspan font-family='"Liberation Mono",monospace' font-size='6.91'>%</tspan></text>
<text x="776.10" y="207.31" fill="#929292" font-size="7.36" font-family='"Liberation Serif","Noto Sans CJK TC",serif' textLength="15.80" lengthAdjust="spacingAndGlyphs" stroke="#929292" stroke-width="0.16" >28592</text>
<line x1="763.20" y1="216.54" x2="765.60" y2="216.54" stroke="#999" stroke-width="0.60" />
<text x="785.36 788.33" y="218.14" fill="#929292" font-size="7.36" font-family='"Liberation Serif","Noto Sans CJK TC",serif' >0<tspan font-family='"Liberation Mono",monospace' font-size='6.91'>%</tspan></text>
<text x="776.10" y="225.24" fill="#929292" font-size="7.36" font-family='"Liberation Serif","Noto Sans CJK TC",serif' textLength="15.80" lengthAdjust="spacingAndGlyphs" stroke="#929292" stroke-width="0.16" >28032</text>
<line x1="763.20" y1="234.47" x2="765.60" y2="234.47" stroke="#999" stroke-width="0.60" />
<text x="782.77 785.36 788.33" y="236.07" fill="#929292" font-size="7.36" font-family='"Liberation Serif","Noto Sans CJK TC",serif' >-2<tspan font-family='"Liberation Mono",monospace' font-size='6.91'>%</tspan></text>
<text x="776.10" y="243.17" fill="#929292" font-size="7.36" font-family='"Liberation Serif","Noto Sans CJK TC",serif' textLength="15.80" lengthAdjust="spacingAndGlyphs" stroke="#929292" stroke-width="0.16" >27471</text>
<line x1="763.20" y1="252.40" x2="765.60" y2="252.40" stroke="#999" stroke-width="0.60" />
<text x="782.77 785.36 788.33" y="254.00" fill="#929292" font-size="7.36" font-family='"Liberation Serif","Noto Sans CJK TC",serif' >-4<tspan font-family='"Liberation Mono",monospace' font-size='6.91'>%</tspan></text>
<text x="776.10" y="261.10" fill="#929292" font-size="7.36" font-family='"Liberation Serif","Noto Sans CJK TC",serif' textLength="15.80" lengthAdjust="spacingAndGlyphs" stroke="#929292" stroke-width="0.16" >26910</text>
<line x1="763.20" y1="270.33" x2="765.60" y2="270.33" stroke="#999" stroke-width="0.60" />
<text x="782.77 785.36 788.33" y="271.93" fill="#929292" font-size="7.36" font-family='"Liberation Serif","Noto Sans CJK TC",serif' >-6<tspan font-family='"Liberation Mono",monospace' font-size='6.91'>%</tspan></text>
<rect x="764.2" y="84.9" width="28" height="6" rx="1.6" fill="#e4f2e4"/>
<text x="769.70" y="90.10" fill="#ff2a2a" font-size="7.36" font-family='"Liberation Serif","Noto Sans CJK TC",serif' textLength="22.20" lengthAdjust="spacingAndGlyphs" stroke="#ff2a2a" stroke-width="0.16" >32065.0</text>
</g>
<g id="vol">
<text x="2.33 5.53 8.73 12.77 15.36 19.48 21.76 24.96 29.08 31.36 34.56 38.37 41.88" y="288.20" fill="#111" font-size="7.36" font-family='"Liberation Serif","Noto Sans CJK TC",serif' ><tspan font-family='"Liberation Mono",monospace' font-size='6.91'>VOL</tspan>(5,10,20) </text>
<text x="43.93 47.13 50.56 54.58 56.96 60.16 63.36 66.56 70.68 72.96 76.16 79.66" y="288.20" fill="#c4c4c4" font-size="7.36" font-family='"Liberation Serif","Noto Sans CJK TC",serif' ><tspan font-family='"Liberation Mono",monospace' font-size='6.91'>MA</tspan>1:7197.14<tspan font-family='"Noto Sans CJK TC","Noto Sans CJK SC",sans-serif' font-size='6.27' font-weight='500'>↓</tspan></text>
<text x="85.53 88.73 92.16 96.18 98.56 101.76 104.96 108.16 112.28 114.56 117.76 121.26" y="288.20" fill="#30e8d0" font-size="7.36" font-family='"Liberation Serif","Noto Sans CJK TC",serif' ><tspan font-family='"Liberation Mono",monospace' font-size='6.91'>MA</tspan>2:6747.66<tspan font-family='"Noto Sans CJK TC","Noto Sans CJK SC",sans-serif' font-size='6.27' font-weight='500'>↑</tspan></text>
<text x="127.13 130.33 133.76 137.78 140.16 143.36 146.56 149.76 153.88 156.16 159.36 162.86" y="288.20" fill="#ffa898" font-size="7.36" font-family='"Liberation Serif","Noto Sans CJK TC",serif' ><tspan font-family='"Liberation Mono",monospace' font-size='6.91'>MA</tspan>3:5718.68<tspan font-family='"Noto Sans CJK TC","Noto Sans CJK SC",sans-serif' font-size='6.27' font-weight='500'>↑</tspan></text>
<text x="169.26 176.18 178.56 181.76 184.96 188.16 192.28 194.56 197.76 201.26" y="288.20" fill="#38b4ff" font-size="7.36" font-family='"Liberation Serif","Noto Sans CJK TC",serif' ><tspan font-family='"Noto Sans CJK TC","Noto Sans CJK SC",sans-serif' font-size='6.27' font-weight='500'>量</tspan>:7245.90<tspan font-family='"Noto Sans CJK TC","Noto Sans CJK SC",sans-serif' font-size='6.27' font-weight='500'>↑</tspan></text>
<rect x="8.40" y="330.80" width="9.20" height="62.10" fill="#64fa64" stroke="#2f6a2f" stroke-width="0.55" />
<rect x="20.89" y="331.00" width="9.20" height="61.90" fill="#c82060" />
<rect x="33.38" y="320.60" width="9.20" height="72.30" fill="#64fa64" stroke="#2f6a2f" stroke-width="0.55" />
<rect x="45.87" y="328.60" width="9.20" height="64.30" fill="#64fa64" stroke="#2f6a2f" stroke-width="0.55" />
<rect x="58.36" y="335.60" width="9.20" height="57.30" fill="#c82060" />
<rect x="70.85" y="322.95" width="9.20" height="69.95" fill="#64fa64" stroke="#2f6a2f" stroke-width="0.55" />
<rect x="83.34" y="338.95" width="9.20" height="53.95" fill="#64fa64" stroke="#2f6a2f" stroke-width="0.55" />
<rect x="95.83" y="329.75" width="9.20" height="63.15" fill="#c82060" />
<rect x="108.32" y="333.10" width="9.20" height="59.80" fill="#64fa64" stroke="#2f6a2f" stroke-width="0.55" />
<rect x="120.81" y="314.75" width="9.20" height="78.15" fill="#c82060" />
<rect x="133.30" y="340.60" width="9.20" height="52.30" fill="#c82060" />
<rect x="145.79" y="337.10" width="9.20" height="55.80" fill="#c82060" />
<rect x="158.28" y="339.10" width="9.20" height="53.80" fill="#c82060" />
<rect x="170.77" y="341.25" width="9.20" height="51.65" fill="#c82060" />
<rect x="183.26" y="340.80" width="9.20" height="52.10" fill="#64fa64" stroke="#2f6a2f" stroke-width="0.55" />
<rect x="195.75" y="341.25" width="9.20" height="51.65" fill="#c82060" />
<rect x="208.24" y="344.60" width="9.20" height="48.30" fill="#c82060" />
<rect x="220.73" y="350.25" width="9.20" height="42.65" fill="#c82060" />
<rect x="233.22" y="344.10" width="9.20" height="48.80" fill="#c82060" />
<rect x="245.71" y="346.90" width="9.20" height="46.00" fill="#c82060" />
<rect x="258.20" y="337.10" width="9.20" height="55.80" fill="#64fa64" stroke="#2f6a2f" stroke-width="0.55" />
<rect x="270.69" y="338.75" width="9.20" height="54.15" fill="#c82060" />
<rect x="283.18" y="336.20" width="9.20" height="56.70" fill="#64fa64" stroke="#2f6a2f" stroke-width="0.55" />
<rect x="295.67" y="340.90" width="9.20" height="52.00" fill="#c82060" />
<rect x="308.16" y="345.20" width="9.20" height="47.70" fill="#64fa64" stroke="#2f6a2f" stroke-width="0.55" />
<rect x="320.65" y="335.45" width="9.20" height="57.45" fill="#64fa64" stroke="#2f6a2f" stroke-width="0.55" />
<rect x="333.14" y="337.30" width="9.20" height="55.60" fill="#64fa64" stroke="#2f6a2f" stroke-width="0.55" />
<rect x="345.63" y="344.20" width="9.20" height="48.70" fill="#64fa64" stroke="#2f6a2f" stroke-width="0.55" />
<rect x="358.12" y="332.25" width="9.20" height="60.65" fill="#c82060" />
<rect x="370.61" y="338.50" width="9.20" height="54.40" fill="#c82060" />
<rect x="383.10" y="346.90" width="9.20" height="46.00" fill="#c82060" />
<rect x="395.59" y="345.60" width="9.20" height="47.30" fill="#c82060" />
<rect x="408.08" y="345.60" width="9.20" height="47.30" fill="#c82060" />
<rect x="420.57" y="344.60" width="9.20" height="48.30" fill="#c82060" />
<rect x="433.06" y="342.10" width="9.20" height="50.80" fill="#64fa64" stroke="#2f6a2f" stroke-width="0.55" />
<rect x="445.55" y="333.75" width="9.20" height="59.15" fill="#c82060" />
<rect x="458.04" y="321.90" width="9.20" height="71.00" fill="#c82060" />
<rect x="470.53" y="308.75" width="9.20" height="84.15" fill="#c82060" />
<rect x="483.02" y="312.50" width="9.20" height="80.40" fill="#c82060" />
<rect x="495.51" y="299.20" width="9.20" height="93.70" fill="#64fa64" stroke="#2f6a2f" stroke-width="0.55" />
<rect x="508.00" y="312.10" width="9.20" height="80.80" fill="#64fa64" stroke="#2f6a2f" stroke-width="0.55" />
<rect x="520.49" y="318.70" width="9.20" height="74.20" fill="#64fa64" stroke="#2f6a2f" stroke-width="0.55" />
<rect x="532.98" y="326.90" width="9.20" height="66.00" fill="#c82060" />
<rect x="545.47" y="313.50" width="9.20" height="79.40" fill="#c82060" />
<rect x="557.96" y="320.60" width="9.20" height="72.30" fill="#c82060" />
<rect x="570.45" y="321.80" width="9.20" height="71.10" fill="#64fa64" stroke="#2f6a2f" stroke-width="0.55" />
<rect x="582.94" y="302.25" width="9.20" height="90.65" fill="#c82060" />
<rect x="595.43" y="305.00" width="9.20" height="87.90" fill="#c82060" />
<rect x="607.92" y="307.90" width="9.20" height="85.00" fill="#c82060" />
<rect x="620.41" y="297.95" width="9.20" height="94.95" fill="#64fa64" stroke="#2f6a2f" stroke-width="0.55" />
<rect x="632.90" y="306.00" width="9.20" height="86.90" fill="#c82060" />
<rect x="645.39" y="305.40" width="9.20" height="87.50" fill="#c82060" />
<rect x="657.88" y="313.50" width="9.20" height="79.40" fill="#c82060" />
<rect x="670.37" y="305.90" width="9.20" height="87.00" fill="#c82060" />
<rect x="682.86" y="301.90" width="9.20" height="91.00" fill="#c82060" />
<rect x="695.35" y="290.80" width="9.20" height="102.10" fill="#64fa64" stroke="#2f6a2f" stroke-width="0.55" />
<rect x="707.84" y="352.10" width="9.20" height="40.80" fill="#64fa64" stroke="#2f6a2f" stroke-width="0.55" />
<polyline points="13.00,335.00 25.00,336.50 45.00,330.00 62.00,329.50 75.00,327.50 90.00,329.50 100.00,331.00 112.00,330.50 125.00,327.50 138.00,331.00 175.00,334.00 187.50,340.00 200.00,340.00 225.00,343.75 237.00,344.50 250.00,345.60 262.00,344.40 275.00,343.50 287.00,340.00 312.00,339.40 325.00,339.75 337.00,340.00 350.00,341.00 362.00,338.80 375.00,337.50 387.00,340.00 412.00,342.00 425.00,344.00 437.00,345.40 450.00,342.50 462.00,338.75 475.00,330.60 488.00,323.00 500.00,315.60 512.00,311.25 522.00,310.00 537.00,313.10 550.00,314.75 562.00,319.00 575.00,320.60 587.00,316.90 600.00,312.50 612.00,310.00 625.00,306.00 637.00,303.10 650.00,305.00 662.00,306.25 675.00,305.50 687.00,307.00 699.00,303.50 712.00,311.00" fill="none" stroke="#c8c8c8" stroke-width="0.55" stroke-linejoin="round" />
<polyline points="13.00,334.50 60.00,334.00 100.00,332.50 125.00,330.50 137.00,331.00 175.00,332.50 210.00,334.00 248.00,335.60 275.00,336.25 300.00,337.50 320.00,339.00 345.00,339.75 368.00,338.90 375.00,340.60 400.00,341.25 425.00,342.25 437.00,341.60 450.00,341.00 462.00,340.50 475.00,338.00 488.00,336.00 500.00,334.50 530.00,332.00 560.00,329.50 590.00,326.00 608.00,323.00 625.00,321.25 650.00,317.50 675.00,313.00 699.50,309.40 712.00,311.90" fill="none" stroke="#ffb4a4" stroke-width="0.60" stroke-linejoin="round" />
<polyline points="13.00,332.50 30.00,334.00 45.00,332.00 62.00,332.50 75.00,332.90 90.00,332.50 110.00,330.50 125.50,327.90 135.00,329.50 160.00,331.50 185.00,333.75 210.00,336.00 235.00,339.40 250.00,342.50 262.00,342.75 275.00,342.50 287.00,341.25 300.00,341.75 312.00,342.40 325.00,341.25 337.00,340.60 350.00,340.00 362.00,339.30 375.00,338.25 400.00,340.75 412.00,341.25 425.00,341.50 437.00,341.25 450.00,340.75 462.00,340.00 475.00,336.25 488.00,333.75 500.00,332.00 525.00,326.00 550.00,320.60 575.00,316.25 600.00,313.10 625.00,312.50 640.00,311.90 662.00,309.40 687.00,307.25 699.50,303.40 712.00,308.75" fill="none" stroke="#38e0d0" stroke-width="0.70" stroke-linejoin="round" />
<line x1="763.20" y1="393.30" x2="765.80" y2="393.30" stroke="#999" stroke-width="0.60" />
<text x="782.30" y="394.80" fill="#929292" font-size="7.36" font-family='"Liberation Serif","Noto Sans CJK TC",serif' textLength="9.40" lengthAdjust="spacingAndGlyphs" stroke="#929292" stroke-width="0.16" >0.0</text>
<line x1="763.20" y1="388.90" x2="764.60" y2="388.90" stroke="#bbb" stroke-width="0.50" />
<line x1="763.20" y1="384.50" x2="764.60" y2="384.50" stroke="#bbb" stroke-width="0.50" />
<line x1="763.20" y1="380.10" x2="764.60" y2="380.10" stroke="#bbb" stroke-width="0.50" />
<line x1="763.20" y1="375.70" x2="764.60" y2="375.70" stroke="#bbb" stroke-width="0.50" />
<line x1="763.20" y1="371.30" x2="765.80" y2="371.30" stroke="#999" stroke-width="0.60" />
<text x="772.70" y="372.80" fill="#929292" font-size="7.36" font-family='"Liberation Serif","Noto Sans CJK TC",serif' textLength="19.00" lengthAdjust="spacingAndGlyphs" stroke="#929292" stroke-width="0.16" >2000.0</text>
<line x1="763.20" y1="366.90" x2="764.60" y2="366.90" stroke="#bbb" stroke-width="0.50" />
<line x1="763.20" y1="362.50" x2="764.60" y2="362.50" stroke="#bbb" stroke-width="0.50" />
<line x1="763.20" y1="358.10" x2="764.60" y2="358.10" stroke="#bbb" stroke-width="0.50" />
<line x1="763.20" y1="353.70" x2="764.60" y2="353.70" stroke="#bbb" stroke-width="0.50" />
<line x1="763.20" y1="349.30" x2="765.80" y2="349.30" stroke="#999" stroke-width="0.60" />
<text x="772.70" y="350.80" fill="#929292" font-size="7.36" font-family='"Liberation Serif","Noto Sans CJK TC",serif' textLength="19.00" lengthAdjust="spacingAndGlyphs" stroke="#929292" stroke-width="0.16" >4000.0</text>
<line x1="763.20" y1="344.90" x2="764.60" y2="344.90" stroke="#bbb" stroke-width="0.50" />
<line x1="763.20" y1="340.50" x2="764.60" y2="340.50" stroke="#bbb" stroke-width="0.50" />
<line x1="763.20" y1="336.10" x2="764.60" y2="336.10" stroke="#bbb" stroke-width="0.50" />
<line x1="763.20" y1="331.70" x2="764.60" y2="331.70" stroke="#bbb" stroke-width="0.50" />
<line x1="763.20" y1="327.30" x2="765.80" y2="327.30" stroke="#999" stroke-width="0.60" />
<text x="772.70" y="328.80" fill="#929292" font-size="7.36" font-family='"Liberation Serif","Noto Sans CJK TC",serif' textLength="19.00" lengthAdjust="spacingAndGlyphs" stroke="#929292" stroke-width="0.16" >6000.0</text>
<line x1="763.20" y1="322.90" x2="764.60" y2="322.90" stroke="#bbb" stroke-width="0.50" />
<line x1="763.20" y1="318.50" x2="764.60" y2="318.50" stroke="#bbb" stroke-width="0.50" />
<line x1="763.20" y1="314.10" x2="764.60" y2="314.10" stroke="#bbb" stroke-width="0.50" />
<line x1="763.20" y1="309.70" x2="764.60" y2="309.70" stroke="#bbb" stroke-width="0.50" />
<line x1="763.20" y1="305.30" x2="765.80" y2="305.30" stroke="#999" stroke-width="0.60" />
<text x="772.70" y="306.80" fill="#929292" font-size="7.36" font-family='"Liberation Serif","Noto Sans CJK TC",serif' textLength="19.00" lengthAdjust="spacingAndGlyphs" stroke="#929292" stroke-width="0.16" >8000.0</text>
</g>
<g id="p3">
<text x="2.76 9.16 15.56 21.96 28.36 35.07 37.96 44.36 51.07 54.27 56.86 60.67 64.18" y="403.50" fill="#111" font-size="7.36" font-family='"Liberation Serif","Noto Sans CJK TC",serif' ><tspan font-family='"Noto Sans CJK TC","Noto Sans CJK SC",sans-serif' font-size='6.27' font-weight='500'>投信買賣超</tspan>(<tspan font-family='"Noto Sans CJK TC","Noto Sans CJK SC",sans-serif' font-size='6.27' font-weight='500'>解盤</tspan>)(1) </text>
<text x="66.76 73.16 79.56 85.96 92.88 95.26 98.46 102.58 104.86 108.06 111.56" y="403.50" fill="#20208c" font-size="7.36" font-family='"Liberation Serif","Noto Sans CJK TC",serif' ><tspan font-family='"Noto Sans CJK TC","Noto Sans CJK SC",sans-serif' font-size='6.27' font-weight='500'>投信買進</tspan>:95.56<tspan font-family='"Noto Sans CJK TC","Noto Sans CJK SC",sans-serif' font-size='6.27' font-weight='500'>↑</tspan></text>
<text x="117.96 124.36 130.76 137.16 144.08 146.46 149.66 152.86 156.98 159.26 162.46 165.96" y="403.50" fill="#f020f0" font-size="7.36" font-family='"Liberation Serif","Noto Sans CJK TC",serif' ><tspan font-family='"Noto Sans CJK TC","Noto Sans CJK SC",sans-serif' font-size='6.27' font-weight='500'>投信賣出</tspan>:163.29<tspan font-family='"Noto Sans CJK TC","Noto Sans CJK SC",sans-serif' font-size='6.27' font-weight='500'>↓</tspan></text>
<text x="172.36 178.76 185.16 191.56 197.96 204.88 207.87 210.46 213.66 217.78 220.06 223.26 226.76" y="403.50" fill="#9a9a9a" font-size="7.36" font-family='"Liberation Serif","Noto Sans CJK TC",serif' ><tspan font-family='"Noto Sans CJK TC","Noto Sans CJK SC",sans-serif' font-size='6.27' font-weight='500'>投信買賣超</tspan>:-67.73<tspan font-family='"Noto Sans CJK TC","Noto Sans CJK SC",sans-serif' font-size='6.27' font-weight='500'>↑</tspan></text>
<text x="233.16 239.56 245.96 252.36 258.76 265.16 272.08 275.07 277.66 280.86 284.06 288.18 290.46 293.66 297.16" y="403.50" fill="#38b4ff" font-size="7.36" font-family='"Liberation Serif","Noto Sans CJK TC",serif' ><tspan font-family='"Noto Sans CJK TC","Noto Sans CJK SC",sans-serif' font-size='6.27' font-weight='500'>昨投信買賣超</tspan>:-100.00<tspan font-family='"Noto Sans CJK TC","Noto Sans CJK SC",sans-serif' font-size='6.27' font-weight='500'>↓</tspan></text>
<rect x="7.90" y="425.60" width="10.20" height="4.50" fill="#ff6699" />
<rect x="20.39" y="430.10" width="10.20" height="5.65" fill="#66ffcc" />
<rect x="32.88" y="430.10" width="10.20" height="2.40" fill="#66ffcc" />
<rect x="45.37" y="430.10" width="10.20" height="10.30" fill="#66ffcc" />
<rect x="57.86" y="430.10" width="10.20" height="18.40" fill="#66ffcc" />
<rect x="70.35" y="430.10" width="10.20" height="6.90" fill="#66ffcc" />
<rect x="82.84" y="428.10" width="10.20" height="2.00" fill="#ff6699" />
<rect x="95.33" y="427.90" width="10.20" height="2.20" fill="#ff6699" />
<rect x="107.82" y="430.10" width="10.20" height="2.40" fill="#66ffcc" />
<rect x="120.31" y="430.10" width="10.20" height="1.90" fill="#66ffcc" />
<rect x="132.80" y="430.10" width="10.20" height="4.65" fill="#66ffcc" />
<rect x="145.29" y="406.00" width="10.20" height="24.10" fill="#ff6699" />
<rect x="157.78" y="415.00" width="10.20" height="15.10" fill="#ff6699" />
<rect x="170.27" y="421.00" width="10.20" height="9.10" fill="#ff6699" />
<rect x="182.76" y="415.00" width="10.20" height="15.10" fill="#ff6699" />
<rect x="195.25" y="427.90" width="10.20" height="2.20" fill="#ff6699" />
<rect x="207.74" y="427.90" width="10.20" height="2.20" fill="#ff6699" />
<rect x="220.23" y="430.10" width="10.20" height="1.90" fill="#66ffcc" />
<rect x="232.72" y="430.10" width="10.20" height="1.50" fill="#66ffcc" />
<rect x="245.21" y="429.60" width="10.20" height="0.50" fill="#ff6699" />
<rect x="257.70" y="430.10" width="10.20" height="1.90" fill="#66ffcc" />
<rect x="270.19" y="426.90" width="10.20" height="3.20" fill="#ff6699" />
<rect x="282.68" y="426.00" width="10.20" height="4.10" fill="#ff6699" />
<rect x="295.17" y="427.90" width="10.20" height="2.20" fill="#ff6699" />
<rect x="307.66" y="430.10" width="10.20" height="4.90" fill="#66ffcc" />
<rect x="320.15" y="422.90" width="10.20" height="7.20" fill="#ff6699" />
<rect x="332.64" y="428.75" width="10.20" height="1.35" fill="#ff6699" />
<rect x="345.13" y="422.90" width="10.20" height="7.20" fill="#ff6699" />
<rect x="357.62" y="421.90" width="10.20" height="8.20" fill="#ff6699" />
<rect x="370.11" y="428.25" width="10.20" height="1.85" fill="#ff6699" />
<rect x="382.60" y="426.90" width="10.20" height="3.20" fill="#ff6699" />
<rect x="395.09" y="430.10" width="10.20" height="10.30" fill="#66ffcc" />
<rect x="407.58" y="430.10" width="10.20" height="11.50" fill="#66ffcc" />
<rect x="420.07" y="430.10" width="10.20" height="2.80" fill="#66ffcc" />
<rect x="432.56" y="430.10" width="10.20" height="8.65" fill="#66ffcc" />
<rect x="445.05" y="430.10" width="10.20" height="6.50" fill="#66ffcc" />
<rect x="457.54" y="430.10" width="10.20" height="9.30" fill="#66ffcc" />
<rect x="470.03" y="430.10" width="10.20" height="1.30" fill="#66ffcc" />
<rect x="482.52" y="430.10" width="10.20" height="5.90" fill="#66ffcc" />
<rect x="495.01" y="430.10" width="10.20" height="17.15" fill="#66ffcc" />
<rect x="507.50" y="430.10" width="10.20" height="11.80" fill="#66ffcc" />
<rect x="519.99" y="430.10" width="10.20" height="10.30" fill="#66ffcc" />
<rect x="532.48" y="430.10" width="10.20" height="20.90" fill="#66ffcc" />
<rect x="544.97" y="430.10" width="10.20" height="14.65" fill="#66ffcc" />
<rect x="557.46" y="430.10" width="10.20" height="13.80" fill="#66ffcc" />
<rect x="569.95" y="430.10" width="10.20" height="5.90" fill="#66ffcc" />
<rect x="582.44" y="430.10" width="10.20" height="16.15" fill="#66ffcc" />
<rect x="594.93" y="430.10" width="10.20" height="27.40" fill="#66ffcc" />
<rect x="607.42" y="430.10" width="10.20" height="18.15" fill="#66ffcc" />
<rect x="619.91" y="430.10" width="10.20" height="36.50" fill="#66ffcc" />
<rect x="632.40" y="430.10" width="10.20" height="4.40" fill="#66ffcc" />
<rect x="644.89" y="430.10" width="10.20" height="2.15" fill="#66ffcc" />
<rect x="657.38" y="430.10" width="10.20" height="8.65" fill="#66ffcc" />
<rect x="669.87" y="430.10" width="10.20" height="10.65" fill="#66ffcc" />
<rect x="682.36" y="430.10" width="10.20" height="3.15" fill="#66ffcc" />
<rect x="694.85" y="430.10" width="10.20" height="6.50" fill="#66ffcc" />
<line x1="707.44" y1="430.10" x2="717.44" y2="430.10" stroke="#ffb868" stroke-width="0.55" />
<line x1="763.20" y1="410.40" x2="765.80" y2="410.40" stroke="#999" stroke-width="0.60" />
<text x="772.70" y="412.00" fill="#929292" font-size="7.36" font-family='"Liberation Serif","Noto Sans CJK TC",serif' textLength="19.00" lengthAdjust="spacingAndGlyphs" stroke="#929292" stroke-width="0.16" >100.00</text>
<line x1="763.20" y1="430.30" x2="765.80" y2="430.30" stroke="#999" stroke-width="0.60" />
<text x="779.10" y="431.90" fill="#929292" font-size="7.36" font-family='"Liberation Serif","Noto Sans CJK TC",serif' textLength="12.60" lengthAdjust="spacingAndGlyphs" stroke="#929292" stroke-width="0.16" >0.00</text>
<line x1="763.20" y1="451.20" x2="765.80" y2="451.20" stroke="#999" stroke-width="0.60" />
<text x="772.70" y="452.80" fill="#929292" font-size="7.36" font-family='"Liberation Serif","Noto Sans CJK TC",serif' textLength="19.00" lengthAdjust="spacingAndGlyphs" stroke="#929292" stroke-width="0.16" >-100.0</text>
<line x1="763.20" y1="413.50" x2="764.60" y2="413.50" stroke="#bbb" stroke-width="0.50" />
<line x1="763.20" y1="417.65" x2="764.60" y2="417.65" stroke="#bbb" stroke-width="0.50" />
<line x1="763.20" y1="421.80" x2="764.60" y2="421.80" stroke="#bbb" stroke-width="0.50" />
<line x1="763.20" y1="425.95" x2="764.60" y2="425.95" stroke="#bbb" stroke-width="0.50" />
<line x1="763.20" y1="430.10" x2="764.60" y2="430.10" stroke="#bbb" stroke-width="0.50" />
<line x1="763.20" y1="434.25" x2="764.60" y2="434.25" stroke="#bbb" stroke-width="0.50" />
<line x1="763.20" y1="438.40" x2="764.60" y2="438.40" stroke="#bbb" stroke-width="0.50" />
<line x1="763.20" y1="442.55" x2="764.60" y2="442.55" stroke="#bbb" stroke-width="0.50" />
<line x1="763.20" y1="446.70" x2="764.60" y2="446.70" stroke="#bbb" stroke-width="0.50" />
<line x1="763.20" y1="450.85" x2="764.60" y2="450.85" stroke="#bbb" stroke-width="0.50" />
<line x1="763.20" y1="455.00" x2="764.60" y2="455.00" stroke="#bbb" stroke-width="0.50" />
<line x1="763.20" y1="459.15" x2="764.60" y2="459.15" stroke="#bbb" stroke-width="0.50" />
<line x1="763.20" y1="463.30" x2="764.60" y2="463.30" stroke="#bbb" stroke-width="0.50" />
</g>
<g id="p4">
<text x="2.76 9.16 15.56 21.96 28.36 35.07 37.96 44.36 51.07 54.27 56.86 60.67 64.18" y="476.70" fill="#111" font-size="7.36" font-family='"Liberation Serif","Noto Sans CJK TC",serif' ><tspan font-family='"Noto Sans CJK TC","Noto Sans CJK SC",sans-serif' font-size='6.27' font-weight='500'>外資買賣超</tspan>(<tspan font-family='"Noto Sans CJK TC","Noto Sans CJK SC",sans-serif' font-size='6.27' font-weight='500'>解盤</tspan>)(1) </text>
<text x="66.76 73.16 79.56 85.96 92.88 95.26 98.46 101.66 104.86 108.98 111.26 114.46 117.96" y="476.70" fill="#20208c" font-size="7.36" font-family='"Liberation Serif","Noto Sans CJK TC",serif' ><tspan font-family='"Noto Sans CJK TC","Noto Sans CJK SC",sans-serif' font-size='6.27' font-weight='500'>外資買進</tspan>:2481.03<tspan font-family='"Noto Sans CJK TC","Noto Sans CJK SC",sans-serif' font-size='6.27' font-weight='500'>↑</tspan></text>
<text x="124.36 130.76 137.16 143.56 150.48 152.86 156.06 159.26 162.46 166.58 168.86 172.06 175.56" y="476.70" fill="#f020f0" font-size="7.36" font-family='"Liberation Serif","Noto Sans CJK TC",serif' ><tspan font-family='"Noto Sans CJK TC","Noto Sans CJK SC",sans-serif' font-size='6.27' font-weight='500'>外資賣出</tspan>:2323.61<tspan font-family='"Noto Sans CJK TC","Noto Sans CJK SC",sans-serif' font-size='6.27' font-weight='500'>↑</tspan></text>
<text x="181.96 188.36 194.76 201.16 207.56 214.48 216.86 220.06 223.26 227.38 229.66 232.86 236.36" y="476.70" fill="#9a9a9a" font-size="7.36" font-family='"Liberation Serif","Noto Sans CJK TC",serif' ><tspan font-family='"Noto Sans CJK TC","Noto Sans CJK SC",sans-serif' font-size='6.27' font-weight='500'>外資買賣超</tspan>:157.41<tspan font-family='"Noto Sans CJK TC","Noto Sans CJK SC",sans-serif' font-size='6.27' font-weight='500'>↑</tspan></text>
<text x="242.76 249.16 255.56 261.96 268.36 274.76 281.68 284.67 287.26 290.46 293.66 297.78 300.06 303.26 306.76" y="476.70" fill="#38b4ff" font-size="7.36" font-family='"Liberation Serif","Noto Sans CJK TC",serif' ><tspan font-family='"Noto Sans CJK TC","Noto Sans CJK SC",sans-serif' font-size='6.27' font-weight='500'>昨外資買賣超</tspan>:-121.67<tspan font-family='"Noto Sans CJK TC","Noto Sans CJK SC",sans-serif' font-size='6.27' font-weight='500'>↓</tspan></text>
<rect x="7.90" y="493.10" width="10.20" height="5.90" fill="#66ffcc" />
<rect x="20.39" y="493.10" width="10.20" height="3.40" fill="#66ffcc" />
<rect x="32.88" y="493.10" width="10.20" height="2.40" fill="#66ffcc" />
<rect x="45.37" y="493.10" width="10.20" height="21.50" fill="#66ffcc" />
<rect x="57.86" y="490.75" width="10.20" height="2.35" fill="#ff6699" />
<rect x="70.35" y="493.10" width="10.20" height="17.15" fill="#66ffcc" />
<rect x="82.84" y="493.10" width="10.20" height="8.90" fill="#66ffcc" />
<rect x="95.33" y="489.25" width="10.20" height="3.85" fill="#ff6699" />
<rect x="107.82" y="493.10" width="10.20" height="32.00" fill="#66ffcc" />
<rect x="120.31" y="493.10" width="10.20" height="10.50" fill="#66ffcc" />
<rect x="132.80" y="491.10" width="10.20" height="2.00" fill="#ff6699" />
<rect x="145.29" y="489.00" width="10.20" height="4.10" fill="#ff6699" />
<rect x="157.78" y="488.40" width="10.20" height="4.70" fill="#ff6699" />
<rect x="170.27" y="493.10" width="10.20" height="6.80" fill="#66ffcc" />
<rect x="182.76" y="493.10" width="10.20" height="8.65" fill="#66ffcc" />
<rect x="195.25" y="488.60" width="10.20" height="4.50" fill="#ff6699" />
<rect x="207.74" y="487.40" width="10.20" height="5.70" fill="#ff6699" />
<rect x="220.23" y="489.90" width="10.20" height="3.20" fill="#ff6699" />
<rect x="232.72" y="480.50" width="10.20" height="12.60" fill="#ff6699" />
<rect x="245.21" y="488.60" width="10.20" height="4.50" fill="#ff6699" />
<rect x="257.70" y="493.10" width="10.20" height="2.15" fill="#66ffcc" />
<rect x="270.19" y="486.50" width="10.20" height="6.60" fill="#ff6699" />
<rect x="282.68" y="493.10" width="10.20" height="6.80" fill="#66ffcc" />
<rect x="295.17" y="487.60" width="10.20" height="5.50" fill="#ff6699" />
<rect x="307.66" y="493.10" width="10.20" height="17.15" fill="#66ffcc" />
<rect x="320.15" y="493.10" width="10.20" height="20.80" fill="#66ffcc" />
<rect x="332.64" y="493.10" width="10.20" height="12.40" fill="#66ffcc" />
<rect x="345.13" y="493.10" width="10.20" height="9.65" fill="#66ffcc" />
<rect x="357.62" y="493.10" width="10.20" height="0.60" fill="#66ffcc" />
<rect x="370.11" y="485.25" width="10.20" height="7.85" fill="#ff6699" />
<rect x="382.60" y="493.10" width="10.20" height="2.65" fill="#66ffcc" />
<rect x="395.09" y="493.10" width="10.20" height="1.80" fill="#66ffcc" />
<rect x="407.58" y="490.75" width="10.20" height="2.35" fill="#ff6699" />
<rect x="420.07" y="490.10" width="10.20" height="3.00" fill="#ff6699" />
<rect x="432.56" y="491.75" width="10.20" height="1.35" fill="#ff6699" />
<rect x="445.05" y="493.10" width="10.20" height="0.60" fill="#66ffcc" />
<rect x="457.54" y="489.25" width="10.20" height="3.85" fill="#ff6699" />
<rect x="470.03" y="493.10" width="10.20" height="2.65" fill="#66ffcc" />
<rect x="482.52" y="492.20" width="10.20" height="0.90" fill="#ff6699" />
<rect x="495.01" y="493.10" width="10.20" height="10.30" fill="#66ffcc" />
<rect x="507.50" y="493.10" width="10.20" height="0.60" fill="#66ffcc" />
<rect x="519.99" y="493.10" width="10.20" height="3.40" fill="#66ffcc" />
<rect x="532.48" y="493.10" width="10.20" height="4.50" fill="#66ffcc" />
<rect x="544.97" y="488.00" width="10.20" height="5.10" fill="#ff6699" />
<rect x="557.46" y="488.60" width="10.20" height="4.50" fill="#ff6699" />
<rect x="569.95" y="493.10" width="10.20" height="0.60" fill="#66ffcc" />
<rect x="582.44" y="479.50" width="10.20" height="13.60" fill="#ff6699" />
<rect x="594.93" y="493.10" width="10.20" height="9.65" fill="#66ffcc" />
<rect x="607.42" y="493.10" width="10.20" height="1.50" fill="#66ffcc" />
<rect x="619.91" y="493.10" width="10.20" height="15.50" fill="#66ffcc" />
<rect x="632.40" y="486.50" width="10.20" height="6.60" fill="#ff6699" />
<rect x="644.89" y="485.25" width="10.20" height="7.85" fill="#ff6699" />
<rect x="657.38" y="493.10" width="10.20" height="0.60" fill="#66ffcc" />
<rect x="669.87" y="486.10" width="10.20" height="7.00" fill="#ff6699" />
<rect x="682.36" y="481.50" width="10.20" height="11.60" fill="#ff6699" />
<rect x="694.85" y="488.60" width="10.20" height="4.50" fill="#ff6699" />
<line x1="707.44" y1="493.10" x2="717.44" y2="493.10" stroke="#ffb868" stroke-width="0.55" />
<line x1="763.20" y1="492.90" x2="765.80" y2="492.90" stroke="#999" stroke-width="0.60" />
<text x="779.10" y="494.50" fill="#929292" font-size="7.36" font-family='"Liberation Serif","Noto Sans CJK TC",serif' textLength="12.60" lengthAdjust="spacingAndGlyphs" stroke="#929292" stroke-width="0.16" >0.00</text>
<line x1="763.20" y1="510.60" x2="765.80" y2="510.60" stroke="#999" stroke-width="0.60" />
<text x="772.70" y="512.20" fill="#929292" font-size="7.36" font-family='"Liberation Serif","Noto Sans CJK TC",serif' textLength="19.00" lengthAdjust="spacingAndGlyphs" stroke="#929292" stroke-width="0.16" >-500.0</text>
</g>
<g id="tabs">
<line x1="33.30" y1="529.80" x2="33.30" y2="537.40" stroke="#aaa" stroke-width="0.60" />
<text x="13.58 16.78" y="535.90" fill="#333" font-size="7.36" font-family='"Liberation Serif","Noto Sans CJK TC",serif' ><tspan font-family='"Liberation Mono",monospace' font-size='6.91'>MA</tspan></text>
<line x1="65.40" y1="529.80" x2="65.40" y2="537.40" stroke="#aaa" stroke-width="0.60" />
<text x="42.48 45.68 48.88 52.08" y="535.90" fill="#333" font-size="7.36" font-family='"Liberation Serif","Noto Sans CJK TC",serif' ><tspan font-family='"Liberation Mono",monospace' font-size='6.91'>BOLL</tspan></text>
<line x1="97.50" y1="529.80" x2="97.50" y2="537.40" stroke="#aaa" stroke-width="0.60" />
<text x="74.58 77.78 80.98 84.18" y="535.90" fill="#333" font-size="7.36" font-family='"Liberation Serif","Noto Sans CJK TC",serif' ><tspan font-family='"Liberation Mono",monospace' font-size='6.91'>MACD</tspan></text>
<line x1="129.60" y1="529.80" x2="129.60" y2="537.40" stroke="#aaa" stroke-width="0.60" />
<text x="108.28 111.48 114.68" y="535.90" fill="#333" font-size="7.36" font-family='"Liberation Serif","Noto Sans CJK TC",serif' ><tspan font-family='"Liberation Mono",monospace' font-size='6.91'>RSI</tspan></text>
<line x1="161.70" y1="529.80" x2="161.70" y2="537.40" stroke="#aaa" stroke-width="0.60" />
<text x="140.38 143.58 146.78" y="535.90" fill="#333" font-size="7.36" font-family='"Liberation Serif","Noto Sans CJK TC",serif' ><tspan font-family='"Liberation Mono",monospace' font-size='6.91'>DMI</tspan></text>
</g>
<g id="status">
<text x="0.5" y="547.70" fill="#a01010" font-size="9.2" font-family='"Liberation Serif","Noto Serif CJK SC",serif' font-weight="bold" textLength="102" lengthAdjust="spacingAndGlyphs">【<tspan dy="-1.6" font-size="9.6" font-family='"Liberation Sans","Noto Sans CJK TC",sans-serif'>yeswin</tspan><tspan dy="1.6">籌易贏 技術分析】</tspan></text>
<text x="108.00" y="547.70" fill="#111" font-size="9.20" font-family='"Liberation Serif","Noto Serif CJK SC",serif' text-anchor="start" font-weight="bold" textLength="45.00" lengthAdjust="spacingAndGlyphs" >市加權指數</text>
<text x="155.60" y="546.30" fill="#109010" font-size="7.40" font-family='"Liberation Sans","Noto Sans CJK TC",sans-serif' text-anchor="start" font-weight="bold" textLength="60.00" lengthAdjust="spacingAndGlyphs" >32064.99 -471.28</text>
<text x="220.00" y="546.30" fill="#111" font-size="7.40" font-family='"Liberation Sans","Noto Sans CJK TC",sans-serif' text-anchor="start" font-weight="bold" textLength="59.70" lengthAdjust="spacingAndGlyphs" >-1.45% 3754.59億</text>
<rect x="283.80" y="541.10" width="19.40" height="3.00" fill="#800000" />
<rect x="303.80" y="541.10" width="11.20" height="3.00" fill="#008000" />
<text x="471.70" y="547.70" fill="#111" font-size="9.20" font-family='"Liberation Serif","Noto Serif CJK SC",serif' text-anchor="start" font-weight="bold" textLength="36.30" lengthAdjust="spacingAndGlyphs" >櫃檯指數</text>
<text x="511.00" y="546.30" fill="#109010" font-size="7.40" font-family='"Liberation Sans","Noto Sans CJK TC",sans-serif' text-anchor="start" font-weight="bold" textLength="42.00" lengthAdjust="spacingAndGlyphs" >300.55 -4.93</text>
<text x="558.00" y="546.30" fill="#111" font-size="7.40" font-family='"Liberation Sans","Noto Sans CJK TC",sans-serif' text-anchor="start" font-weight="bold" textLength="56.00" lengthAdjust="spacingAndGlyphs" >-1.58% 857.07億</text>
<rect x="617.00" y="541.10" width="20.30" height="3.00" fill="#800000" />
<rect x="637.80" y="541.10" width="10.40" height="3.00" fill="#008000" />
<line x1="936.00" y1="539.50" x2="936.00" y2="544.00" stroke="#bbb" stroke-width="0.60" />
<line x1="947.30" y1="539.50" x2="947.30" y2="544.00" stroke="#bbb" stroke-width="0.60" />
<line x1="959.00" y1="539.50" x2="959.00" y2="544.00" stroke="#bbb" stroke-width="0.60" />
<rect x="950.50" y="541.80" width="3.00" height="2.20" fill="#e04080" />
<rect x="962.00" y="542.00" width="8.00" height="2.00" fill="#50b050" />
</g>
<g id="quote">
<line x1="1022.40" y1="40.40" x2="1022.40" y2="529.40" stroke="#b8b8b8" stroke-width="0.90" />
<rect x="1022.90" y="40.40" width="1.10" height="489.00" fill="#fff" />
<line x1="793.90" y1="50.50" x2="1022.40" y2="50.50" stroke="#a8a8a8" stroke-width="1.00" />
<text x="908.30" y="48.20" fill="#111" font-size="8.30" font-family='"Liberation Serif","Noto Serif CJK SC",serif' text-anchor="middle" font-weight="bold" textLength="66.80" lengthAdjust="spacingAndGlyphs" >$TWT 市加權指數</text>
<text x="794.80" y="59.10" fill="#000" font-size="8.20" font-family='"Liberation Serif","Noto Serif CJK SC",serif' text-anchor="start" font-weight="bold" textLength="18.20" lengthAdjust="spacingAndGlyphs" >最新</text>
<text x="1020.20" y="58.60" fill="#1f961f" font-size="7.60" font-family='"Liberation Sans","Noto Sans CJK TC",sans-serif' text-anchor="end" font-weight="bold" >32064.99</text>
<text x="794.80" y="68.70" fill="#000" font-size="8.20" font-family='"Liberation Serif","Noto Serif CJK SC",serif' text-anchor="start" font-weight="bold" textLength="18.20" lengthAdjust="spacingAndGlyphs" >漲跌</text>
<text x="1020.20" y="68.20" fill="#1f961f" font-size="7.60" font-family='"Liberation Sans","Noto Sans CJK TC",sans-serif' text-anchor="end" font-weight="bold" >-471.28</text>
<text x="794.80" y="78.30" fill="#000" font-size="8.20" font-family='"Liberation Serif","Noto Serif CJK SC",serif' text-anchor="start" font-weight="bold" textLength="18.20" lengthAdjust="spacingAndGlyphs" >漲幅</text>
<text x="1020.20" y="77.80" fill="#1f961f" font-size="7.60" font-family='"Liberation Sans","Noto Sans CJK TC",sans-serif' text-anchor="end" font-weight="bold" >-1.45%</text>
<text x="794.80" y="87.90" fill="#000" font-size="8.20" font-family='"Liberation Serif","Noto Serif CJK SC",serif' text-anchor="start" font-weight="bold" textLength="18.20" lengthAdjust="spacingAndGlyphs" >總額</text>
<text x="1020.20" y="87.40" fill="#1a1a1a" font-size="7.60" font-family='"Liberation Sans","Noto Sans CJK TC",sans-serif' text-anchor="end" font-weight="bold" >37545948</text>
<text x="794.80" y="97.50" fill="#000" font-size="8.20" font-family='"Liberation Serif","Noto Serif CJK SC",serif' text-anchor="start" font-weight="bold" textLength="18.20" lengthAdjust="spacingAndGlyphs" >總量</text>
<text x="794.80" y="107.10" fill="#000" font-size="8.20" font-family='"Liberation Serif","Noto Serif CJK SC",serif' text-anchor="start" font-weight="bold" textLength="18.20" lengthAdjust="spacingAndGlyphs" >前收</text>
<text x="1020.20" y="106.60" fill="#1a1a1a" font-size="7.60" font-family='"Liberation Sans","Noto Sans CJK TC",sans-serif' text-anchor="end" font-weight="bold" >32536.27</text>
<text x="794.80" y="116.70" fill="#000" font-size="8.20" font-family='"Liberation Serif","Noto Serif CJK SC",serif' text-anchor="start" font-weight="bold" textLength="18.20" lengthAdjust="spacingAndGlyphs" >今開</text>
<text x="1020.20" y="116.20" fill="#9c1c1c" font-size="7.60" font-family='"Liberation Sans","Noto Sans CJK TC",sans-serif' text-anchor="end" font-weight="bold" >32555.52</text>
<text x="794.80" y="126.30" fill="#000" font-size="8.20" font-family='"Liberation Serif","Noto Serif CJK SC",serif' text-anchor="start" font-weight="bold" textLength="18.20" lengthAdjust="spacingAndGlyphs" >最高</text>
<text x="1020.20" y="125.80" fill="#9c1c1c" font-size="7.60" font-family='"Liberation Sans","Noto Sans CJK TC",sans-serif' text-anchor="end" font-weight="bold" >32555.52</text>
<text x="794.80" y="135.90" fill="#000" font-size="8.20" font-family='"Liberation Serif","Noto Serif CJK SC",serif' text-anchor="start" font-weight="bold" textLength="18.20" lengthAdjust="spacingAndGlyphs" >最低</text>
<text x="1020.20" y="135.40" fill="#1f961f" font-size="7.60" font-family='"Liberation Sans","Noto Sans CJK TC",sans-serif' text-anchor="end" font-weight="bold" >32039.93</text>
<line x1="793.90" y1="137.60" x2="1022.40" y2="137.60" stroke="#a8a8a8" stroke-width="0.90" />
<line x1="793.90" y1="145.30" x2="1022.40" y2="145.30" stroke="#a8a8a8" stroke-width="0.90" />
<text x="794.50" y="144.60" fill="#111" font-size="7.30" font-family='"Liberation Sans","Noto Sans CJK TC",sans-serif' text-anchor="start" font-weight="bold" textLength="37.60" lengthAdjust="spacingAndGlyphs" >2026/01/30</text>
<text x="908.30" y="144.80" fill="#111" font-size="8.30" font-family='"Liberation Serif","Noto Serif CJK SC",serif' text-anchor="middle" font-weight="bold" textLength="66.80" lengthAdjust="spacingAndGlyphs" >$TWT 市加權指數</text>
</g>
<g id="intraday">
<line x1="793.90" y1="150.20" x2="996.00" y2="150.20" stroke="#b0b0b0" stroke-width="0.80" />
<line x1="996.00" y1="150.20" x2="996.00" y2="481.30" stroke="#b4b4b4" stroke-width="0.90" />
<line x1="793.90" y1="151.30" x2="996.00" y2="151.30" stroke="#b4b4b4" stroke-width="0.60" stroke-dasharray="1.6 1.07"/>
<text x="997.40" y="155.40" fill="#8b1a1a" font-size="7.36" font-family='"Liberation Serif","Noto Sans CJK TC",serif' textLength="15.80" lengthAdjust="spacingAndGlyphs" stroke="#8b1a1a" stroke-width="0.16" >33028</text>
<line x1="793.90" y1="161.42" x2="996.00" y2="161.42" stroke="#b4b4b4" stroke-width="0.60" stroke-dasharray="1.6 1.07"/>
<text x="997.40" y="165.52" fill="#8b1a1a" font-size="7.36" font-family='"Liberation Serif","Noto Sans CJK TC",serif' textLength="15.80" lengthAdjust="spacingAndGlyphs" stroke="#8b1a1a" stroke-width="0.16" >32983</text>
<line x1="793.90" y1="171.53" x2="996.00" y2="171.53" stroke="#b4b4b4" stroke-width="0.60" stroke-dasharray="1.6 1.07"/>
<text x="997.40" y="175.63" fill="#8b1a1a" font-size="7.36" font-family='"Liberation Serif","Noto Sans CJK TC",serif' textLength="15.80" lengthAdjust="spacingAndGlyphs" stroke="#8b1a1a" stroke-width="0.16" >32938</text>
<line x1="793.90" y1="181.65" x2="996.00" y2="181.65" stroke="#b4b4b4" stroke-width="0.60" stroke-dasharray="1.6 1.07"/>
<text x="997.40" y="185.75" fill="#8b1a1a" font-size="7.36" font-family='"Liberation Serif","Noto Sans CJK TC",serif' textLength="15.80" lengthAdjust="spacingAndGlyphs" stroke="#8b1a1a" stroke-width="0.16" >32894</text>
<line x1="793.90" y1="191.77" x2="996.00" y2="191.77" stroke="#b4b4b4" stroke-width="0.60" stroke-dasharray="1.6 1.07"/>
<text x="997.40" y="195.87" fill="#8b1a1a" font-size="7.36" font-family='"Liberation Serif","Noto Sans CJK TC",serif' textLength="15.80" lengthAdjust="spacingAndGlyphs" stroke="#8b1a1a" stroke-width="0.16" >32849</text>
<line x1="793.90" y1="201.89" x2="996.00" y2="201.89" stroke="#b4b4b4" stroke-width="0.60" stroke-dasharray="1.6 1.07"/>
<text x="997.40" y="205.99" fill="#8b1a1a" font-size="7.36" font-family='"Liberation Serif","Noto Sans CJK TC",serif' textLength="15.80" lengthAdjust="spacingAndGlyphs" stroke="#8b1a1a" stroke-width="0.16" >32804</text>
<line x1="793.90" y1="212.00" x2="996.00" y2="212.00" stroke="#b4b4b4" stroke-width="0.60" stroke-dasharray="1.6 1.07"/>
<text x="997.40" y="216.10" fill="#8b1a1a" font-size="7.36" font-family='"Liberation Serif","Noto Sans CJK TC",serif' textLength="15.80" lengthAdjust="spacingAndGlyphs" stroke="#8b1a1a" stroke-width="0.16" >32759</text>
<line x1="793.90" y1="222.12" x2="996.00" y2="222.12" stroke="#b4b4b4" stroke-width="0.60" stroke-dasharray="1.6 1.07"/>
<text x="997.40" y="226.22" fill="#8b1a1a" font-size="7.36" font-family='"Liberation Serif","Noto Sans CJK TC",serif' textLength="15.80" lengthAdjust="spacingAndGlyphs" stroke="#8b1a1a" stroke-width="0.16" >32715</text>
<line x1="793.90" y1="232.24" x2="996.00" y2="232.24" stroke="#b4b4b4" stroke-width="0.60" stroke-dasharray="1.6 1.07"/>
<text x="997.40" y="236.34" fill="#8b1a1a" font-size="7.36" font-family='"Liberation Serif","Noto Sans CJK TC",serif' textLength="15.80" lengthAdjust="spacingAndGlyphs" stroke="#8b1a1a" stroke-width="0.16" >32670</text>
<line x1="793.90" y1="242.35" x2="996.00" y2="242.35" stroke="#b4b4b4" stroke-width="0.60" stroke-dasharray="1.6 1.07"/>
<text x="997.40" y="246.45" fill="#8b1a1a" font-size="7.36" font-family='"Liberation Serif","Noto Sans CJK TC",serif' textLength="15.80" lengthAdjust="spacingAndGlyphs" stroke="#8b1a1a" stroke-width="0.16" >32625</text>
<line x1="793.90" y1="252.47" x2="996.00" y2="252.47" stroke="#b4b4b4" stroke-width="0.60" stroke-dasharray="1.6 1.07"/>
<text x="997.40" y="256.57" fill="#8b1a1a" font-size="7.36" font-family='"Liberation Serif","Noto Sans CJK TC",serif' textLength="15.80" lengthAdjust="spacingAndGlyphs" stroke="#8b1a1a" stroke-width="0.16" >32580</text>
<line x1="793.90" y1="262.79" x2="996.00" y2="262.79" stroke="#8c8c8c" stroke-width="0.80" />
<text x="997.40" y="266.69" fill="#111" font-size="7.36" font-family='"Liberation Serif","Noto Sans CJK TC",serif' textLength="15.80" lengthAdjust="spacingAndGlyphs" stroke="#111" stroke-width="0.16" >32536</text>
<line x1="793.90" y1="272.70" x2="996.00" y2="272.70" stroke="#b4b4b4" stroke-width="0.60" stroke-dasharray="1.6 1.07"/>
<text x="997.40" y="276.80" fill="#111" font-size="7.36" font-family='"Liberation Serif","Noto Sans CJK TC",serif' textLength="15.80" lengthAdjust="spacingAndGlyphs" stroke="#111" stroke-width="0.16" >32491</text>
<line x1="793.90" y1="282.82" x2="996.00" y2="282.82" stroke="#b4b4b4" stroke-width="0.60" stroke-dasharray="1.6 1.07"/>
<text x="997.40" y="286.92" fill="#111" font-size="7.36" font-family='"Liberation Serif","Noto Sans CJK TC",serif' textLength="15.80" lengthAdjust="spacingAndGlyphs" stroke="#111" stroke-width="0.16" >32446</text>
<line x1="793.90" y1="292.94" x2="996.00" y2="292.94" stroke="#b4b4b4" stroke-width="0.60" stroke-dasharray="1.6 1.07"/>
<text x="997.40" y="297.04" fill="#111" font-size="7.36" font-family='"Liberation Serif","Noto Sans CJK TC",serif' textLength="15.80" lengthAdjust="spacingAndGlyphs" stroke="#111" stroke-width="0.16" >32402</text>
<line x1="793.90" y1="303.06" x2="996.00" y2="303.06" stroke="#b4b4b4" stroke-width="0.60" stroke-dasharray="1.6 1.07"/>
<text x="997.40" y="307.16" fill="#111" font-size="7.36" font-family='"Liberation Serif","Noto Sans CJK TC",serif' textLength="15.80" lengthAdjust="spacingAndGlyphs" stroke="#111" stroke-width="0.16" >32357</text>
<line x1="793.90" y1="313.17" x2="996.00" y2="313.17" stroke="#b4b4b4" stroke-width="0.60" stroke-dasharray="1.6 1.07"/>
<text x="997.40" y="317.27" fill="#111" font-size="7.36" font-family='"Liberation Serif","Noto Sans CJK TC",serif' textLength="15.80" lengthAdjust="spacingAndGlyphs" stroke="#111" stroke-width="0.16" >32312</text>
<line x1="793.90" y1="323.29" x2="996.00" y2="323.29" stroke="#b4b4b4" stroke-width="0.60" stroke-dasharray="1.6 1.07"/>
<text x="997.40" y="327.39" fill="#111" font-size="7.36" font-family='"Liberation Serif","Noto Sans CJK TC",serif' textLength="15.80" lengthAdjust="spacingAndGlyphs" stroke="#111" stroke-width="0.16" >32267</text>
<line x1="793.90" y1="333.41" x2="996.00" y2="333.41" stroke="#b4b4b4" stroke-width="0.60" stroke-dasharray="1.6 1.07"/>
<text x="997.40" y="337.51" fill="#111" font-size="7.36" font-family='"Liberation Serif","Noto Sans CJK TC",serif' textLength="15.80" lengthAdjust="spacingAndGlyphs" stroke="#111" stroke-width="0.16" >32223</text>
<line x1="793.90" y1="343.52" x2="996.00" y2="343.52" stroke="#b4b4b4" stroke-width="0.60" stroke-dasharray="1.6 1.07"/>
<text x="997.40" y="347.62" fill="#111" font-size="7.36" font-family='"Liberation Serif","Noto Sans CJK TC",serif' textLength="15.80" lengthAdjust="spacingAndGlyphs" stroke="#111" stroke-width="0.16" >32178</text>
<line x1="793.90" y1="353.64" x2="996.00" y2="353.64" stroke="#b4b4b4" stroke-width="0.60" stroke-dasharray="1.6 1.07"/>
<text x="997.40" y="357.74" fill="#111" font-size="7.36" font-family='"Liberation Serif","Noto Sans CJK TC",serif' textLength="15.80" lengthAdjust="spacingAndGlyphs" stroke="#111" stroke-width="0.16" >32133</text>
<line x1="793.90" y1="363.76" x2="996.00" y2="363.76" stroke="#b4b4b4" stroke-width="0.60" stroke-dasharray="1.6 1.07"/>
<text x="997.40" y="367.86" fill="#111" font-size="7.36" font-family='"Liberation Serif","Noto Sans CJK TC",serif' textLength="15.80" lengthAdjust="spacingAndGlyphs" stroke="#111" stroke-width="0.16" >32089</text>
<line x1="838.80" y1="150.20" x2="838.80" y2="481.30" stroke="#b4b4b4" stroke-width="0.60" stroke-dasharray="1.6 1.07"/>
<line x1="883.70" y1="150.20" x2="883.70" y2="481.30" stroke="#b4b4b4" stroke-width="0.60" stroke-dasharray="1.6 1.07"/>
<line x1="928.60" y1="150.20" x2="928.60" y2="481.30" stroke="#b4b4b4" stroke-width="0.60" stroke-dasharray="1.6 1.07"/>
<line x1="973.50" y1="150.20" x2="973.50" y2="481.30" stroke="#b4b4b4" stroke-width="0.60" stroke-dasharray="1.6 1.07"/>
<line x1="793.90" y1="375.00" x2="996.00" y2="375.00" stroke="#a4a4a4" stroke-width="1.00" />
<line x1="792.60" y1="481.30" x2="1022.40" y2="481.30" stroke="#9a9a9a" stroke-width="0.90" />
<text x="997.40" y="381.40" fill="#aaa" font-size="6.90" font-family='"Liberation Serif","Noto Sans CJK TC",serif' textLength="17.20" lengthAdjust="spacingAndGlyphs" stroke="#aaa" stroke-width="0.16" >328638</text>
<text x="998.26 1004.46" y="479.30" fill="#333" font-size="7.13" font-family='"Liberation Serif","Noto Sans CJK TC",serif' ><tspan font-family='"Noto Sans CJK TC","Noto Sans CJK SC",sans-serif' font-size='6.08' font-weight='500'>即時</tspan></text>
<polyline points="794.30,296.00 797.00,304.00 800.00,309.30 805.00,313.00 810.00,314.60 816.00,316.50 821.00,318.50 826.00,324.00 832.00,327.60 838.00,330.00" fill="none" stroke="#ff40ff" stroke-width="0.80" stroke-linejoin="round" />
<polyline points="794.60,296.45 795.30,305.45 796.80,315.45 797.80,318.45 799.80,312.45 801.30,324.45 802.80,320.45 803.80,328.45 805.80,313.95 807.30,314.45 808.80,319.45 809.80,325.45 810.80,321.45 812.30,327.45 814.30,328.45 815.80,337.95 817.30,327.95 819.30,330.45 820.30,336.45 821.30,329.95 822.80,340.45 824.30,352.45 825.80,364.45 826.30,373.45 827.80,366.45 828.80,369.45 830.30,362.45 831.30,371.45 832.80,365.45 835.30,357.95 836.30,357.95 837.30,369.45" fill="none" stroke="#a85050" stroke-width="0.40" stroke-linejoin="round" />
<polyline points="794.30,296.00 795.00,305.00 796.50,315.00 797.50,318.00 799.50,312.00 801.00,324.00 802.50,320.00 803.50,328.00 805.50,313.50 807.00,314.00 808.50,319.00 809.50,325.00 810.50,321.00 812.00,327.00 814.00,328.00 815.50,337.50 817.00,327.50 819.00,330.00 820.00,336.00 821.00,329.50 822.50,340.00 824.00,352.00 825.50,364.00 826.00,373.00 827.50,366.00 828.50,369.00 830.00,362.00 831.00,371.00 832.50,365.00 835.00,357.50 836.00,357.50 837.00,369.00" fill="none" stroke="#4444b4" stroke-width="0.50" stroke-linejoin="round" />
<line x1="794.40" y1="440.90" x2="794.40" y2="481.30" stroke="#111" stroke-width="0.72" />
<line x1="795.15" y1="444.81" x2="795.15" y2="481.30" stroke="#b85050" stroke-width="0.72" />
<line x1="795.89" y1="444.60" x2="795.89" y2="481.30" stroke="#111" stroke-width="0.72" />
<line x1="796.64" y1="452.47" x2="796.64" y2="481.30" stroke="#111" stroke-width="0.72" />
<line x1="797.38" y1="452.95" x2="797.38" y2="481.30" stroke="#8b2020" stroke-width="0.72" />
<line x1="798.13" y1="450.32" x2="798.13" y2="481.30" stroke="#8b2020" stroke-width="0.72" />
<line x1="798.87" y1="448.33" x2="798.87" y2="481.30" stroke="#111" stroke-width="0.72" />
<line x1="799.62" y1="449.24" x2="799.62" y2="481.30" stroke="#7a1818" stroke-width="0.72" />
<line x1="800.37" y1="453.73" x2="800.37" y2="481.30" stroke="#111" stroke-width="0.72" />
<line x1="801.11" y1="452.25" x2="801.11" y2="481.30" stroke="#111" stroke-width="0.72" />
<line x1="801.86" y1="458.43" x2="801.86" y2="481.30" stroke="#7a1818" stroke-width="0.72" />
<line x1="802.60" y1="455.61" x2="802.60" y2="481.30" stroke="#8b2020" stroke-width="0.72" />
<line x1="803.35" y1="456.76" x2="803.35" y2="481.30" stroke="#111" stroke-width="0.72" />
<line x1="804.09" y1="461.82" x2="804.09" y2="481.30" stroke="#111" stroke-width="0.72" />
<line x1="804.84" y1="462.38" x2="804.84" y2="481.30" stroke="#8b2020" stroke-width="0.72" />
<line x1="805.59" y1="462.47" x2="805.59" y2="481.30" stroke="#111" stroke-width="0.72" />
<line x1="806.33" y1="461.33" x2="806.33" y2="481.30" stroke="#111" stroke-width="0.72" />
<line x1="807.08" y1="467.54" x2="807.08" y2="481.30" stroke="#111" stroke-width="0.72" />
<line x1="807.82" y1="464.91" x2="807.82" y2="481.30" stroke="#7a1818" stroke-width="0.72" />
<line x1="808.57" y1="463.78" x2="808.57" y2="481.30" stroke="#8b2020" stroke-width="0.72" />
<line x1="809.32" y1="463.21" x2="809.32" y2="481.30" stroke="#8b2020" stroke-width="0.72" />
<line x1="810.06" y1="462.85" x2="810.06" y2="481.30" stroke="#8b2020" stroke-width="0.72" />
<line x1="810.81" y1="459.48" x2="810.81" y2="481.30" stroke="#111" stroke-width="0.72" />
<line x1="811.55" y1="464.88" x2="811.55" y2="481.30" stroke="#8b2020" stroke-width="0.72" />
<line x1="812.30" y1="462.25" x2="812.30" y2="481.30" stroke="#111" stroke-width="0.72" />
<line x1="813.04" y1="463.96" x2="813.04" y2="481.30" stroke="#8b2020" stroke-width="0.72" />
<line x1="813.79" y1="463.21" x2="813.79" y2="481.30" stroke="#8b2020" stroke-width="0.72" />
<line x1="814.54" y1="462.46" x2="814.54" y2="481.30" stroke="#8b2020" stroke-width="0.72" />
<line x1="815.28" y1="462.98" x2="815.28" y2="481.30" stroke="#7a1818" stroke-width="0.72" />
<line x1="816.03" y1="470.09" x2="816.03" y2="481.30" stroke="#7a1818" stroke-width="0.72" />
<line x1="816.77" y1="469.71" x2="816.77" y2="481.30" stroke="#7a1818" stroke-width="0.72" />
<line x1="817.52" y1="472.46" x2="817.52" y2="481.30" stroke="#7a1818" stroke-width="0.72" />
<line x1="818.26" y1="467.97" x2="818.26" y2="481.30" stroke="#111" stroke-width="0.72" />
<line x1="819.01" y1="465.01" x2="819.01" y2="481.30" stroke="#111" stroke-width="0.72" />
<line x1="819.76" y1="465.38" x2="819.76" y2="481.30" stroke="#111" stroke-width="0.72" />
<line x1="820.50" y1="470.25" x2="820.50" y2="481.30" stroke="#111" stroke-width="0.72" />
<line x1="821.25" y1="469.14" x2="821.25" y2="481.30" stroke="#7a1818" stroke-width="0.72" />
<line x1="821.99" y1="462.04" x2="821.99" y2="481.30" stroke="#b85050" stroke-width="0.72" />
<line x1="822.74" y1="459.44" x2="822.74" y2="481.30" stroke="#111" stroke-width="0.72" />
<line x1="823.48" y1="458.85" x2="823.48" y2="481.30" stroke="#111" stroke-width="0.72" />
<line x1="824.23" y1="453.36" x2="824.23" y2="481.30" stroke="#8b2020" stroke-width="0.72" />
<line x1="824.98" y1="457.91" x2="824.98" y2="481.30" stroke="#111" stroke-width="0.72" />
<line x1="825.72" y1="459.39" x2="825.72" y2="481.30" stroke="#111" stroke-width="0.72" />
<line x1="826.47" y1="463.87" x2="826.47" y2="481.30" stroke="#7a1818" stroke-width="0.72" />
<line x1="827.21" y1="463.71" x2="827.21" y2="481.30" stroke="#b85050" stroke-width="0.72" />
<line x1="827.96" y1="466.20" x2="827.96" y2="481.30" stroke="#8b2020" stroke-width="0.72" />
<line x1="828.71" y1="472.77" x2="828.71" y2="481.30" stroke="#111" stroke-width="0.72" />
<line x1="829.45" y1="470.77" x2="829.45" y2="481.30" stroke="#b85050" stroke-width="0.72" />
<line x1="830.20" y1="471.24" x2="830.20" y2="481.30" stroke="#8b2020" stroke-width="0.72" />
<line x1="830.94" y1="471.74" x2="830.94" y2="481.30" stroke="#8b2020" stroke-width="0.72" />
<line x1="831.69" y1="471.38" x2="831.69" y2="481.30" stroke="#111" stroke-width="0.72" />
<line x1="832.43" y1="469.87" x2="832.43" y2="481.30" stroke="#111" stroke-width="0.72" />
<line x1="833.18" y1="473.76" x2="833.18" y2="481.30" stroke="#b85050" stroke-width="0.72" />
<line x1="833.93" y1="469.77" x2="833.93" y2="481.30" stroke="#111" stroke-width="0.72" />
<line x1="834.67" y1="470.73" x2="834.67" y2="481.30" stroke="#b85050" stroke-width="0.72" />
<line x1="835.42" y1="474.72" x2="835.42" y2="481.30" stroke="#b85050" stroke-width="0.72" />
<line x1="836.16" y1="474.22" x2="836.16" y2="481.30" stroke="#111" stroke-width="0.72" />
<line x1="836.91" y1="475.21" x2="836.91" y2="481.30" stroke="#b85050" stroke-width="0.72" />
<line x1="837.65" y1="475.48" x2="837.65" y2="481.30" stroke="#111" stroke-width="0.72" />
<line x1="838.40" y1="480.80" x2="838.40" y2="481.30" stroke="#111" stroke-width="0.72" />
</g>
<g id="rtabs">
<path d="M793.00 528.9 L795.10 536.9 H828.50 L830.60 528.9" fill="#fff" stroke="#9a9a9a" stroke-width="0.7"/>
<line x1="792.80" y1="528.60" x2="830.80" y2="528.60" stroke="#a4a4a4" stroke-width="0.80" />
<text x="811.80" y="535.40" fill="#222" font-size="6.40" font-family='"Liberation Sans","Noto Sans CJK TC",sans-serif' text-anchor="middle" font-weight="normal" >細</text>
<path d="M830.60 528.9 L832.70 536.9 H866.10 L868.20 528.9" fill="#fff" stroke="#9a9a9a" stroke-width="0.7"/>
<line x1="830.40" y1="528.60" x2="868.40" y2="528.60" stroke="#a4a4a4" stroke-width="0.80" />
<text x="849.40" y="535.40" fill="#222" font-size="6.40" font-family='"Liberation Sans","Noto Sans CJK TC",sans-serif' text-anchor="middle" font-weight="normal" >價</text>
<path d="M868.20 528.9 L870.30 536.9 H903.70 L905.80 528.9" fill="#fff" stroke="#9a9a9a" stroke-width="0.7"/>
<line x1="868.80" y1="528.60" x2="905.20" y2="528.60" stroke="#aaa" stroke-width="0.60" stroke-dasharray="1 1.2"/>
<text x="887.00" y="535.40" fill="#a02020" font-size="6.40" font-family='"Liberation Sans","Noto Sans CJK TC",sans-serif' text-anchor="middle" font-weight="bold" >勢</text>
<path d="M905.80 528.9 L907.90 536.9 H941.30 L943.40 528.9" fill="#fff" stroke="#9a9a9a" stroke-width="0.7"/>
<line x1="905.60" y1="528.60" x2="943.60" y2="528.60" stroke="#a4a4a4" stroke-width="0.80" />
<text x="924.60" y="535.40" fill="#222" font-size="6.40" font-family='"Liberation Sans","Noto Sans CJK TC",sans-serif' text-anchor="middle" font-weight="normal" >周</text>
<path d="M943.40 528.9 L945.50 536.9 H978.90 L981.00 528.9" fill="#fff" stroke="#9a9a9a" stroke-width="0.7"/>
<line x1="943.20" y1="528.60" x2="981.20" y2="528.60" stroke="#a4a4a4" stroke-width="0.80" />
<text x="962.20" y="535.40" fill="#222" font-size="6.40" font-family='"Liberation Sans","Noto Sans CJK TC",sans-serif' text-anchor="middle" font-weight="normal" >特</text>
<path d="M981.00 528.9 L983.10 536.9 H1016.50 L1018.60 528.9" fill="#fff" stroke="#9a9a9a" stroke-width="0.7"/>
<line x1="980.80" y1="528.60" x2="1018.80" y2="528.60" stroke="#a4a4a4" stroke-width="0.80" />
<text x="999.80" y="535.40" fill="#222" font-size="6.40" font-family='"Liberation Sans","Noto Sans CJK TC",sans-serif' text-anchor="middle" font-weight="normal" >解</text>
<defs><linearGradient id="og" x1="0" y1="0" x2="0" y2="1"><stop offset="0" stop-color="#ffe2b8"/><stop offset="0.5" stop-color="#ffb050"/><stop offset="1" stop-color="#ff8c1a"/></linearGradient></defs>
<rect x="970.6" y="535.2" width="33.6" height="10" rx="1.2" fill="url(#og)" stroke="#f08020" stroke-width="0.7"/>
<text x="976.50" y="543.60" fill="#1080e0" font-size="9.50" font-family='"Liberation Sans","Noto Sans CJK TC",sans-serif' text-anchor="start" font-weight="bold" font-style="italic">Y</text>
<text x="983.00" y="543.40" fill="#203080" font-size="5.60" font-family='"Liberation Sans","Noto Sans CJK TC",sans-serif' text-anchor="start" font-weight="bold" font-style="italic">eswin</text>
<rect x="1005" y="535.2" width="20" height="10" rx="1.2" fill="#fff0dc" stroke="#f09030" stroke-width="0.7"/>
<text x="1008.60" y="542.90" fill="#111" font-size="6.80" font-family='"Liberation Sans","Noto Sans CJK TC",sans-serif' text-anchor="start" font-weight="normal" >系統</text>
</g>
<rect x="0.00" y="40.40" width="1.60" height="497.60" fill="#878787" />
</svg></body></html>
